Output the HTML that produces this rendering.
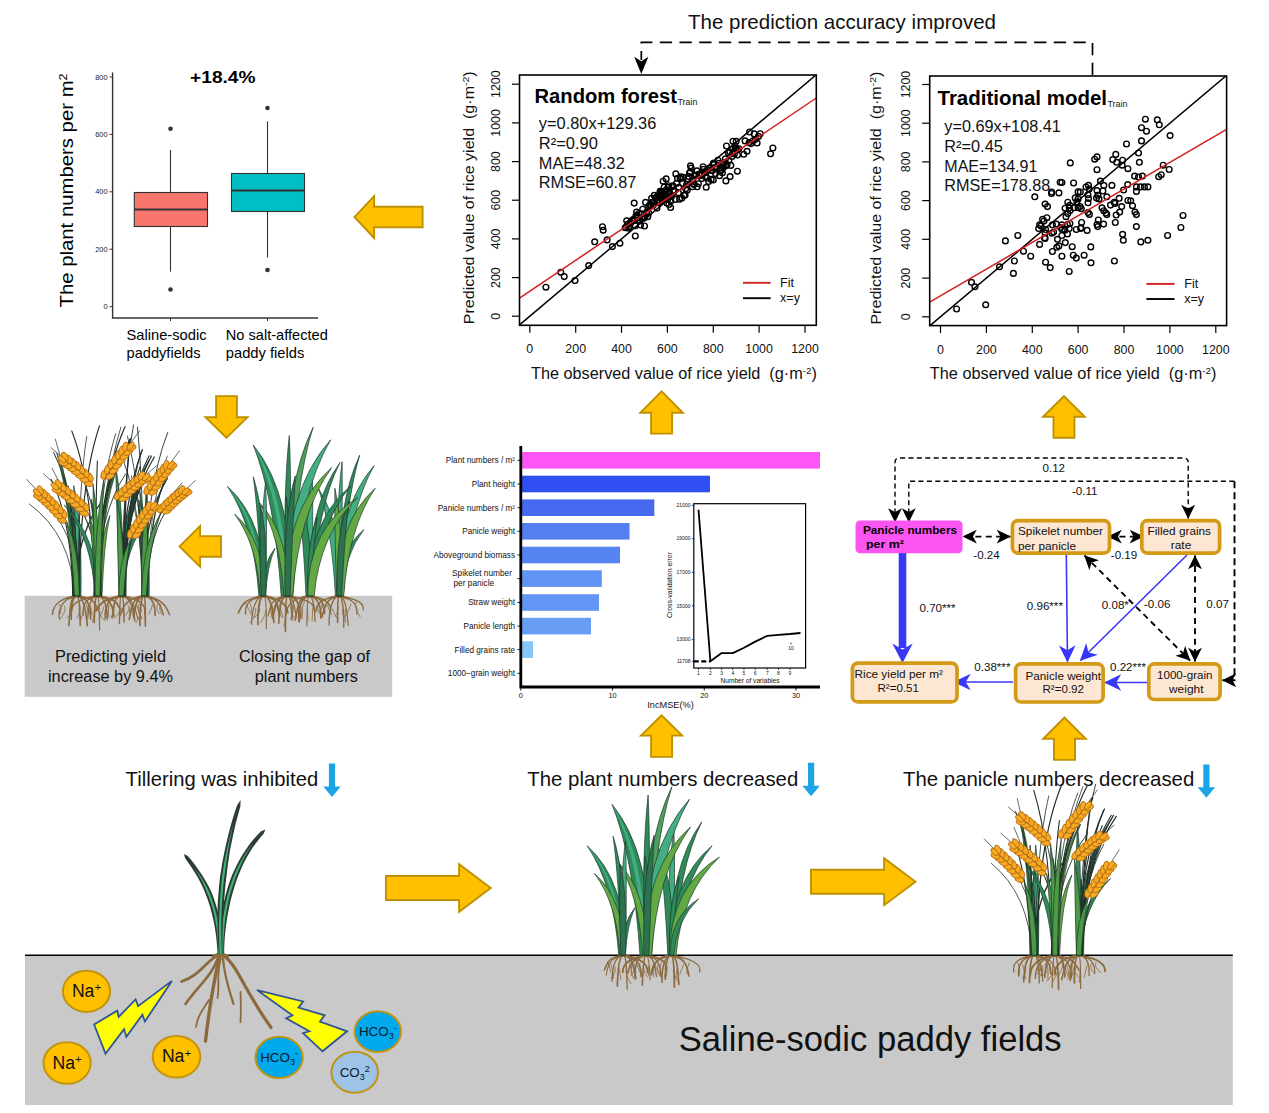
<!DOCTYPE html>
<html lang="en"><head><meta charset="utf-8"><title>Saline-sodic paddy fields - graphical abstract</title>
<style>
html,body{margin:0;padding:0;background:#fff;}
body{width:1269px;height:1113px;overflow:hidden;}
svg{display:block;font-family:"Liberation Sans",sans-serif;}
</style></head><body>
<svg width="1269" height="1113" viewBox="0 0 1269 1113">
<rect width="1269" height="1113" fill="#fff"/>
<g id="boxplot">
<path d="M112.6 72.5V318H318" fill="none" stroke="#333" stroke-width="1.4"/>
<line x1="109.5" y1="77" x2="112.6" y2="77" stroke="#333" stroke-width="1"/>
<text x="107.5" y="79.6" font-size="7.4" text-anchor="end" fill="#222">800</text>
<line x1="109.5" y1="134.4" x2="112.6" y2="134.4" stroke="#333" stroke-width="1"/>
<text x="107.5" y="137" font-size="7.4" text-anchor="end" fill="#222">600</text>
<line x1="109.5" y1="191.8" x2="112.6" y2="191.8" stroke="#333" stroke-width="1"/>
<text x="107.5" y="194.4" font-size="7.4" text-anchor="end" fill="#222">400</text>
<line x1="109.5" y1="249.2" x2="112.6" y2="249.2" stroke="#333" stroke-width="1"/>
<text x="107.5" y="251.8" font-size="7.4" text-anchor="end" fill="#222">200</text>
<line x1="109.5" y1="306.7" x2="112.6" y2="306.7" stroke="#333" stroke-width="1"/>
<text x="107.5" y="309.3" font-size="7.4" text-anchor="end" fill="#222">0</text>
<line x1="170.5" y1="318" x2="170.5" y2="321" stroke="#333" stroke-width="1"/>
<line x1="267.5" y1="318" x2="267.5" y2="321" stroke="#333" stroke-width="1"/>
<line x1="170.5" y1="150" x2="170.5" y2="271.7" stroke="#333" stroke-width="1.1"/>
<rect x="134.3" y="192.5" width="73.2" height="34" fill="#F8766D" stroke="#333" stroke-width="1.1"/>
<line x1="134.3" y1="209.5" x2="207.5" y2="209.5" stroke="#333" stroke-width="2.2"/>
<circle cx="170.5" cy="128.8" r="2.3" fill="#333"/><circle cx="170.5" cy="289.5" r="2.3" fill="#333"/>
<line x1="267.5" y1="121.3" x2="267.5" y2="257.5" stroke="#333" stroke-width="1.1"/>
<rect x="231.5" y="173.5" width="73" height="38" fill="#00BFC4" stroke="#333" stroke-width="1.1"/>
<line x1="231.5" y1="190.5" x2="304.5" y2="190.5" stroke="#333" stroke-width="2.2"/>
<circle cx="267.5" cy="108" r="2.3" fill="#333"/><circle cx="267.5" cy="270" r="2.3" fill="#333"/>
<text x="222.8" y="82.5" font-size="17" text-anchor="middle" font-weight="bold" textLength="65.5" lengthAdjust="spacingAndGlyphs">+18.4%</text>
<text x="72.6" y="307.5" font-size="18" transform="rotate(-90 72.6 307.5)" textLength="234" lengthAdjust="spacingAndGlyphs">The plant numbers per m<tspan font-size="11" dy="-6">2</tspan></text>
<text x="126.5" y="340.3" font-size="14.5" textLength="80" lengthAdjust="spacingAndGlyphs">Saline-sodic</text>
<text x="126.5" y="358.4" font-size="14.5" textLength="74" lengthAdjust="spacingAndGlyphs">paddyfields</text>
<text x="225.8" y="340.3" font-size="14.5" textLength="102" lengthAdjust="spacingAndGlyphs">No salt-affected</text>
<text x="225.8" y="358.4" font-size="14.5" textLength="78.5" lengthAdjust="spacingAndGlyphs">paddy fields</text>
</g>
<g id="rf">
<clipPath id="cp_rf"><rect x="519.5" y="75" width="296.8" height="250.3"/></clipPath>
<line x1="512" y1="316.2" x2="519.5" y2="316.2" stroke="#000" stroke-width="1.2"/>
<text x="500.3" y="316.2" font-size="12.4" text-anchor="middle" fill="#111" transform="rotate(-90 500.3 316.2)">0</text>
<line x1="529.8" y1="325.3" x2="529.8" y2="332.8" stroke="#000" stroke-width="1.2"/>
<text x="529.8" y="353.3" font-size="12.4" text-anchor="middle" fill="#111">0</text>
<line x1="512" y1="277.6" x2="519.5" y2="277.6" stroke="#000" stroke-width="1.2"/>
<text x="500.3" y="277.6" font-size="12.4" text-anchor="middle" fill="#111" transform="rotate(-90 500.3 277.6)">200</text>
<line x1="575.7" y1="325.3" x2="575.7" y2="332.8" stroke="#000" stroke-width="1.2"/>
<text x="575.7" y="353.3" font-size="12.4" text-anchor="middle" fill="#111">200</text>
<line x1="512" y1="238.9" x2="519.5" y2="238.9" stroke="#000" stroke-width="1.2"/>
<text x="500.3" y="238.9" font-size="12.4" text-anchor="middle" fill="#111" transform="rotate(-90 500.3 238.9)">400</text>
<line x1="621.5" y1="325.3" x2="621.5" y2="332.8" stroke="#000" stroke-width="1.2"/>
<text x="621.5" y="353.3" font-size="12.4" text-anchor="middle" fill="#111">400</text>
<line x1="512" y1="200.2" x2="519.5" y2="200.2" stroke="#000" stroke-width="1.2"/>
<text x="500.3" y="200.2" font-size="12.4" text-anchor="middle" fill="#111" transform="rotate(-90 500.3 200.2)">600</text>
<line x1="667.4" y1="325.3" x2="667.4" y2="332.8" stroke="#000" stroke-width="1.2"/>
<text x="667.4" y="353.3" font-size="12.4" text-anchor="middle" fill="#111">600</text>
<line x1="512" y1="161.6" x2="519.5" y2="161.6" stroke="#000" stroke-width="1.2"/>
<text x="500.3" y="161.6" font-size="12.4" text-anchor="middle" fill="#111" transform="rotate(-90 500.3 161.6)">800</text>
<line x1="713.3" y1="325.3" x2="713.3" y2="332.8" stroke="#000" stroke-width="1.2"/>
<text x="713.3" y="353.3" font-size="12.4" text-anchor="middle" fill="#111">800</text>
<line x1="512" y1="122.9" x2="519.5" y2="122.9" stroke="#000" stroke-width="1.2"/>
<text x="500.3" y="122.9" font-size="12.4" text-anchor="middle" fill="#111" transform="rotate(-90 500.3 122.9)">1000</text>
<line x1="759.1" y1="325.3" x2="759.1" y2="332.8" stroke="#000" stroke-width="1.2"/>
<text x="759.1" y="353.3" font-size="12.4" text-anchor="middle" fill="#111">1000</text>
<line x1="512" y1="84.2" x2="519.5" y2="84.2" stroke="#000" stroke-width="1.2"/>
<text x="500.3" y="84.2" font-size="12.4" text-anchor="middle" fill="#111" transform="rotate(-90 500.3 84.2)">1200</text>
<line x1="805" y1="325.3" x2="805" y2="332.8" stroke="#000" stroke-width="1.2"/>
<text x="805" y="353.3" font-size="12.4" text-anchor="middle" fill="#111">1200</text>
<g clip-path="url(#cp_rf)">
<g fill="none" stroke="#000" stroke-width="1.4"><circle cx="545.9" cy="287.2" r="2.85"/><circle cx="560.8" cy="272.2" r="2.85"/><circle cx="564.2" cy="276.6" r="2.85"/><circle cx="575" cy="280.5" r="2.85"/><circle cx="588.7" cy="265.6" r="2.85"/><circle cx="594.7" cy="241.8" r="2.85"/><circle cx="602.5" cy="226.7" r="2.85"/><circle cx="603.2" cy="230.2" r="2.85"/><circle cx="607.1" cy="239.9" r="2.85"/><circle cx="612.4" cy="246.6" r="2.85"/><circle cx="619.9" cy="243.2" r="2.85"/><circle cx="625.2" cy="227.7" r="2.85"/><circle cx="626" cy="227.4" r="2.85"/><circle cx="626.7" cy="220.8" r="2.85"/><circle cx="627.5" cy="224.3" r="2.85"/><circle cx="628.6" cy="228.2" r="2.85"/><circle cx="629.6" cy="226.4" r="2.85"/><circle cx="630.4" cy="222.4" r="2.85"/><circle cx="630.9" cy="222.7" r="2.85"/><circle cx="631.8" cy="220.6" r="2.85"/><circle cx="632.7" cy="220.7" r="2.85"/><circle cx="633" cy="219.6" r="2.85"/><circle cx="634.2" cy="220.4" r="2.85"/><circle cx="635.2" cy="225.7" r="2.85"/><circle cx="635.9" cy="216.1" r="2.85"/><circle cx="636.6" cy="212.1" r="2.85"/><circle cx="637.2" cy="215" r="2.85"/><circle cx="637.8" cy="217.9" r="2.85"/><circle cx="639" cy="213.5" r="2.85"/><circle cx="639.5" cy="220.9" r="2.85"/><circle cx="640.6" cy="225" r="2.85"/><circle cx="641.6" cy="213.7" r="2.85"/><circle cx="641.9" cy="218.8" r="2.85"/><circle cx="642.7" cy="209.2" r="2.85"/><circle cx="643.9" cy="218.1" r="2.85"/><circle cx="644.5" cy="226" r="2.85"/><circle cx="644.9" cy="217.1" r="2.85"/><circle cx="645.6" cy="202.4" r="2.85"/><circle cx="646.5" cy="212.4" r="2.85"/><circle cx="647.8" cy="216.7" r="2.85"/><circle cx="648.6" cy="212.9" r="2.85"/><circle cx="648.8" cy="205.7" r="2.85"/><circle cx="650.2" cy="204.8" r="2.85"/><circle cx="651.1" cy="205.9" r="2.85"/><circle cx="651.6" cy="198.4" r="2.85"/><circle cx="652.1" cy="202.2" r="2.85"/><circle cx="653.1" cy="205.4" r="2.85"/><circle cx="653.6" cy="201.7" r="2.85"/><circle cx="654.3" cy="195.4" r="2.85"/><circle cx="655.8" cy="198" r="2.85"/><circle cx="656.3" cy="197.3" r="2.85"/><circle cx="657" cy="208.1" r="2.85"/><circle cx="658.1" cy="202.2" r="2.85"/><circle cx="658.5" cy="195.5" r="2.85"/><circle cx="659.7" cy="202.6" r="2.85"/><circle cx="660.4" cy="191.4" r="2.85"/><circle cx="660.7" cy="194.9" r="2.85"/><circle cx="661.6" cy="191.8" r="2.85"/><circle cx="662.4" cy="199.9" r="2.85"/><circle cx="663.1" cy="181.2" r="2.85"/><circle cx="664.2" cy="187.2" r="2.85"/><circle cx="664.7" cy="198.1" r="2.85"/><circle cx="665.6" cy="195" r="2.85"/><circle cx="666.2" cy="178.9" r="2.85"/><circle cx="667.6" cy="196.9" r="2.85"/><circle cx="668" cy="187.2" r="2.85"/><circle cx="668.8" cy="185.7" r="2.85"/><circle cx="669.7" cy="192.6" r="2.85"/><circle cx="670.8" cy="200.9" r="2.85"/><circle cx="658.6" cy="199.7" r="2.85"/><circle cx="659.7" cy="197.5" r="2.85"/><circle cx="660.1" cy="191.2" r="2.85"/><circle cx="660.9" cy="193.3" r="2.85"/><circle cx="661.6" cy="198.6" r="2.85"/><circle cx="662" cy="191.9" r="2.85"/><circle cx="663.1" cy="193.5" r="2.85"/><circle cx="663.6" cy="195.7" r="2.85"/><circle cx="664.2" cy="196.4" r="2.85"/><circle cx="665.6" cy="197.7" r="2.85"/><circle cx="665.8" cy="190.3" r="2.85"/><circle cx="666.8" cy="203" r="2.85"/><circle cx="667.7" cy="199" r="2.85"/><circle cx="668.4" cy="193.6" r="2.85"/><circle cx="668.9" cy="204.5" r="2.85"/><circle cx="669.8" cy="195.9" r="2.85"/><circle cx="670.6" cy="207.5" r="2.85"/><circle cx="671.5" cy="196.5" r="2.85"/><circle cx="671.8" cy="186.7" r="2.85"/><circle cx="672.9" cy="185.9" r="2.85"/><circle cx="673.4" cy="190.3" r="2.85"/><circle cx="674.1" cy="191.1" r="2.85"/><circle cx="675.3" cy="199.4" r="2.85"/><circle cx="675.8" cy="173.9" r="2.85"/><circle cx="676.6" cy="183.4" r="2.85"/><circle cx="677.5" cy="178.3" r="2.85"/><circle cx="678.4" cy="192.9" r="2.85"/><circle cx="678.8" cy="187.2" r="2.85"/><circle cx="679.6" cy="199.2" r="2.85"/><circle cx="680.3" cy="178.6" r="2.85"/><circle cx="681" cy="176.8" r="2.85"/><circle cx="681.9" cy="198" r="2.85"/><circle cx="682.5" cy="183.3" r="2.85"/><circle cx="683.3" cy="177.4" r="2.85"/><circle cx="684" cy="195.4" r="2.85"/><circle cx="685.1" cy="195.1" r="2.85"/><circle cx="685.7" cy="188.8" r="2.85"/><circle cx="686.5" cy="184.7" r="2.85"/><circle cx="687.3" cy="190.1" r="2.85"/><circle cx="687.6" cy="178.8" r="2.85"/><circle cx="688.6" cy="176.4" r="2.85"/><circle cx="689.6" cy="172.8" r="2.85"/><circle cx="690.3" cy="172" r="2.85"/><circle cx="690.5" cy="165.8" r="2.85"/><circle cx="691.2" cy="168.1" r="2.85"/><circle cx="692.2" cy="186.8" r="2.85"/><circle cx="692.7" cy="180.4" r="2.85"/><circle cx="693.5" cy="184.3" r="2.85"/><circle cx="694.2" cy="184.2" r="2.85"/><circle cx="695.4" cy="176" r="2.85"/><circle cx="696.2" cy="175" r="2.85"/><circle cx="697" cy="170.9" r="2.85"/><circle cx="697.2" cy="186.8" r="2.85"/><circle cx="698.4" cy="183.7" r="2.85"/><circle cx="699.1" cy="174" r="2.85"/><circle cx="699.5" cy="175.2" r="2.85"/><circle cx="700.8" cy="175.5" r="2.85"/><circle cx="701.6" cy="173.2" r="2.85"/><circle cx="701.8" cy="178.6" r="2.85"/><circle cx="703.1" cy="166.7" r="2.85"/><circle cx="703.4" cy="169.3" r="2.85"/><circle cx="704.2" cy="172.3" r="2.85"/><circle cx="705.3" cy="176.4" r="2.85"/><circle cx="706" cy="172.3" r="2.85"/><circle cx="706.2" cy="187.3" r="2.85"/><circle cx="707.1" cy="178" r="2.85"/><circle cx="708" cy="169.8" r="2.85"/><circle cx="708.6" cy="181.5" r="2.85"/><circle cx="709.2" cy="168" r="2.85"/><circle cx="710.1" cy="168.1" r="2.85"/><circle cx="711.1" cy="179.4" r="2.85"/><circle cx="711.3" cy="170.6" r="2.85"/><circle cx="712.5" cy="170.6" r="2.85"/><circle cx="713.1" cy="164.4" r="2.85"/><circle cx="713.6" cy="163" r="2.85"/><circle cx="714.5" cy="167.6" r="2.85"/><circle cx="715.5" cy="173.5" r="2.85"/><circle cx="716.2" cy="167.8" r="2.85"/><circle cx="716.6" cy="167" r="2.85"/><circle cx="718" cy="160.2" r="2.85"/><circle cx="718.6" cy="163.4" r="2.85"/><circle cx="719.5" cy="170.9" r="2.85"/><circle cx="719.6" cy="175.7" r="2.85"/><circle cx="720.5" cy="167.8" r="2.85"/><circle cx="721.1" cy="170.4" r="2.85"/><circle cx="722.4" cy="172.7" r="2.85"/><circle cx="722.7" cy="164.8" r="2.85"/><circle cx="723.4" cy="167.5" r="2.85"/><circle cx="724.3" cy="162.5" r="2.85"/><circle cx="725.4" cy="158.8" r="2.85"/><circle cx="726.1" cy="165.7" r="2.85"/><circle cx="726.5" cy="146" r="2.85"/><circle cx="727.1" cy="164.6" r="2.85"/><circle cx="728.4" cy="153" r="2.85"/><circle cx="728.9" cy="160.2" r="2.85"/><circle cx="729.8" cy="151.8" r="2.85"/><circle cx="730.1" cy="176.6" r="2.85"/><circle cx="730.8" cy="165.4" r="2.85"/><circle cx="732" cy="156.6" r="2.85"/><circle cx="732.6" cy="153.4" r="2.85"/><circle cx="733" cy="141.2" r="2.85"/><circle cx="734.4" cy="154" r="2.85"/><circle cx="735" cy="146.1" r="2.85"/><circle cx="735.8" cy="149.3" r="2.85"/><circle cx="736" cy="147.8" r="2.85"/><circle cx="737.4" cy="150" r="2.85"/><circle cx="737.5" cy="155" r="2.85"/><circle cx="738.9" cy="148.7" r="2.85"/><circle cx="743.8" cy="154.3" r="2.85"/><circle cx="745.1" cy="140.9" r="2.85"/><circle cx="747" cy="151.3" r="2.85"/><circle cx="749.1" cy="142.6" r="2.85"/><circle cx="749.6" cy="132" r="2.85"/><circle cx="750.9" cy="143.6" r="2.85"/><circle cx="753.1" cy="140.7" r="2.85"/><circle cx="754.2" cy="133.9" r="2.85"/><circle cx="755.5" cy="139.3" r="2.85"/><circle cx="757.1" cy="143" r="2.85"/><circle cx="758.5" cy="136.4" r="2.85"/><circle cx="760.2" cy="133.7" r="2.85"/><circle cx="770.6" cy="153.8" r="2.85"/><circle cx="772.9" cy="148" r="2.85"/><circle cx="736.2" cy="141.3" r="2.85"/><circle cx="737.4" cy="171.2" r="2.85"/><circle cx="725.9" cy="180.9" r="2.85"/><circle cx="713.3" cy="179.9" r="2.85"/><circle cx="634.2" cy="203.1" r="2.85"/><circle cx="635.3" cy="236" r="2.85"/></g>
<line x1="519.5" y1="324.9" x2="816.3" y2="74.7" stroke="#000" stroke-width="1.5"/>
<line x1="519.5" y1="298.2" x2="816.3" y2="98" stroke="#D21F1F" stroke-width="1.5"/>
</g>
<rect x="519.5" y="75" width="296.8" height="250.3" fill="none" stroke="#000" stroke-width="1.6"/>
<text x="534.5" y="103.3" font-size="20.3" font-weight="bold" textLength="142.5" lengthAdjust="spacingAndGlyphs">Random forest</text>
<text x="677.5" y="105.1" font-size="9" fill="#222" textLength="20" lengthAdjust="spacingAndGlyphs">Train</text>
<text x="538.8" y="129.1" font-size="16" fill="#111" textLength="117.5" lengthAdjust="spacingAndGlyphs">y=0.80x+129.36</text>
<text x="538.8" y="148.8" font-size="16" fill="#111" textLength="59" lengthAdjust="spacingAndGlyphs">R²=0.90</text>
<text x="538.8" y="168.5" font-size="16" fill="#111" textLength="86" lengthAdjust="spacingAndGlyphs">MAE=48.32</text>
<text x="538.8" y="188.2" font-size="16" fill="#111" textLength="97.5" lengthAdjust="spacingAndGlyphs">RMSE=60.87</text>
<text x="474.5" y="324.3" font-size="14.6" fill="#111" transform="rotate(-90 474.5 324.3)" textLength="253" lengthAdjust="spacingAndGlyphs">Predicted value of rice yield&#160;&#160;(g·m<tspan font-size="9.5" dy="-5">-2</tspan><tspan dy="5">)</tspan></text>
<text x="531" y="378.8" font-size="15.6" fill="#111" textLength="286" lengthAdjust="spacingAndGlyphs">The observed value of rice yield&#160;&#160;(g·m<tspan font-size="9.5" dy="-5">-2</tspan><tspan dy="5">)</tspan></text>
<line x1="743" y1="282.8" x2="770.6" y2="282.8" stroke="#D21F1F" stroke-width="1.9"/>
<line x1="743" y1="298.2" x2="770.6" y2="298.2" stroke="#000" stroke-width="1.9"/>
<text x="780" y="287" font-size="12.6" fill="#111">Fit</text>
<text x="780" y="301.8" font-size="12.6" fill="#111">x=y</text>
</g>
<g id="tm">
<clipPath id="cp_tm"><rect x="929.7" y="76" width="296.9" height="249.6"/></clipPath>
<line x1="922.2" y1="316.8" x2="929.7" y2="316.8" stroke="#000" stroke-width="1.2"/>
<text x="910.3" y="316.8" font-size="12.4" text-anchor="middle" fill="#111" transform="rotate(-90 910.3 316.8)">0</text>
<line x1="940.5" y1="325.6" x2="940.5" y2="333.1" stroke="#000" stroke-width="1.2"/>
<text x="940.5" y="353.6" font-size="12.4" text-anchor="middle" fill="#111">0</text>
<line x1="922.2" y1="278.1" x2="929.7" y2="278.1" stroke="#000" stroke-width="1.2"/>
<text x="910.3" y="278.1" font-size="12.4" text-anchor="middle" fill="#111" transform="rotate(-90 910.3 278.1)">200</text>
<line x1="986.4" y1="325.6" x2="986.4" y2="333.1" stroke="#000" stroke-width="1.2"/>
<text x="986.4" y="353.6" font-size="12.4" text-anchor="middle" fill="#111">200</text>
<line x1="922.2" y1="239.3" x2="929.7" y2="239.3" stroke="#000" stroke-width="1.2"/>
<text x="910.3" y="239.3" font-size="12.4" text-anchor="middle" fill="#111" transform="rotate(-90 910.3 239.3)">400</text>
<line x1="1032.3" y1="325.6" x2="1032.3" y2="333.1" stroke="#000" stroke-width="1.2"/>
<text x="1032.3" y="353.6" font-size="12.4" text-anchor="middle" fill="#111">400</text>
<line x1="922.2" y1="200.6" x2="929.7" y2="200.6" stroke="#000" stroke-width="1.2"/>
<text x="910.3" y="200.6" font-size="12.4" text-anchor="middle" fill="#111" transform="rotate(-90 910.3 200.6)">600</text>
<line x1="1078.1" y1="325.6" x2="1078.1" y2="333.1" stroke="#000" stroke-width="1.2"/>
<text x="1078.1" y="353.6" font-size="12.4" text-anchor="middle" fill="#111">600</text>
<line x1="922.2" y1="161.9" x2="929.7" y2="161.9" stroke="#000" stroke-width="1.2"/>
<text x="910.3" y="161.9" font-size="12.4" text-anchor="middle" fill="#111" transform="rotate(-90 910.3 161.9)">800</text>
<line x1="1124" y1="325.6" x2="1124" y2="333.1" stroke="#000" stroke-width="1.2"/>
<text x="1124" y="353.6" font-size="12.4" text-anchor="middle" fill="#111">800</text>
<line x1="922.2" y1="123.2" x2="929.7" y2="123.2" stroke="#000" stroke-width="1.2"/>
<text x="910.3" y="123.2" font-size="12.4" text-anchor="middle" fill="#111" transform="rotate(-90 910.3 123.2)">1000</text>
<line x1="1169.9" y1="325.6" x2="1169.9" y2="333.1" stroke="#000" stroke-width="1.2"/>
<text x="1169.9" y="353.6" font-size="12.4" text-anchor="middle" fill="#111">1000</text>
<line x1="922.2" y1="84.5" x2="929.7" y2="84.5" stroke="#000" stroke-width="1.2"/>
<text x="910.3" y="84.5" font-size="12.4" text-anchor="middle" fill="#111" transform="rotate(-90 910.3 84.5)">1200</text>
<line x1="1215.8" y1="325.6" x2="1215.8" y2="333.1" stroke="#000" stroke-width="1.2"/>
<text x="1215.8" y="353.6" font-size="12.4" text-anchor="middle" fill="#111">1200</text>
<g clip-path="url(#cp_tm)">
<g fill="none" stroke="#000" stroke-width="1.4"><circle cx="956.6" cy="309" r="2.85"/><circle cx="971.5" cy="282.3" r="2.85"/><circle cx="974.9" cy="286.8" r="2.85"/><circle cx="985.7" cy="304.8" r="2.85"/><circle cx="999.5" cy="266.8" r="2.85"/><circle cx="1005.4" cy="240.9" r="2.85"/><circle cx="1145.4" cy="119.2" r="2.85"/><circle cx="1157.3" cy="119.8" r="2.85"/><circle cx="1159.3" cy="124.8" r="2.85"/><circle cx="1141.5" cy="127.7" r="2.85"/><circle cx="1146.5" cy="131.2" r="2.85"/><circle cx="1170.1" cy="135.6" r="2.85"/><circle cx="1141.5" cy="140.9" r="2.85"/><circle cx="1126.5" cy="144" r="2.85"/><circle cx="1138.5" cy="153" r="2.85"/><circle cx="1115.8" cy="154.4" r="2.85"/><circle cx="1097" cy="156.9" r="2.85"/><circle cx="1094.7" cy="159.2" r="2.85"/><circle cx="1112.8" cy="159.6" r="2.85"/><circle cx="1116.7" cy="162.3" r="2.85"/><circle cx="1122.6" cy="160.2" r="2.85"/><circle cx="1122.2" cy="165.2" r="2.85"/><circle cx="1139.4" cy="162.3" r="2.85"/><circle cx="1070.3" cy="162.9" r="2.85"/><circle cx="1127.9" cy="168.7" r="2.85"/><circle cx="1097" cy="169.7" r="2.85"/><circle cx="1163.2" cy="165.2" r="2.85"/><circle cx="1169.2" cy="169.5" r="2.85"/><circle cx="1161.2" cy="174.7" r="2.85"/><circle cx="1158.7" cy="176.7" r="2.85"/><circle cx="1134.6" cy="176.1" r="2.85"/><circle cx="1138.5" cy="177" r="2.85"/><circle cx="1142.4" cy="176.1" r="2.85"/><circle cx="1100.4" cy="181.1" r="2.85"/><circle cx="1061.9" cy="182.5" r="2.85"/><circle cx="1073.6" cy="183" r="2.85"/><circle cx="1088.5" cy="185.4" r="2.85"/><circle cx="1089.2" cy="189" r="2.85"/><circle cx="1103.8" cy="185.4" r="2.85"/><circle cx="1111.9" cy="185.4" r="2.85"/><circle cx="1127.7" cy="184.6" r="2.85"/><circle cx="1136.4" cy="186.9" r="2.85"/><circle cx="1140.5" cy="186.9" r="2.85"/><circle cx="1144.4" cy="186.9" r="2.85"/><circle cx="1147.9" cy="186.9" r="2.85"/><circle cx="1123.6" cy="190" r="2.85"/><circle cx="1136.4" cy="191.4" r="2.85"/><circle cx="1078.1" cy="191.9" r="2.85"/><circle cx="1097" cy="190.6" r="2.85"/><circle cx="1102.9" cy="191" r="2.85"/><circle cx="1051.5" cy="193.5" r="2.85"/><circle cx="1058.9" cy="192.9" r="2.85"/><circle cx="1034.8" cy="196.8" r="2.85"/><circle cx="1075.2" cy="197.9" r="2.85"/><circle cx="1078.1" cy="198.9" r="2.85"/><circle cx="1088" cy="194.8" r="2.85"/><circle cx="1088.5" cy="198.5" r="2.85"/><circle cx="1096.5" cy="197.9" r="2.85"/><circle cx="1099" cy="198.9" r="2.85"/><circle cx="1106.8" cy="196.8" r="2.85"/><circle cx="1119.2" cy="198.3" r="2.85"/><circle cx="1127.9" cy="200.5" r="2.85"/><circle cx="1130.7" cy="200.8" r="2.85"/><circle cx="1045.1" cy="204.1" r="2.85"/><circle cx="1067.8" cy="202.2" r="2.85"/><circle cx="1088" cy="202.8" r="2.85"/><circle cx="1114.2" cy="202.2" r="2.85"/><circle cx="1110.5" cy="205.1" r="2.85"/><circle cx="1132.5" cy="205.7" r="2.85"/><circle cx="1065.1" cy="208.2" r="2.85"/><circle cx="1069.2" cy="207.8" r="2.85"/><circle cx="1074.2" cy="207.8" r="2.85"/><circle cx="1078.1" cy="207.8" r="2.85"/><circle cx="1080.2" cy="206.6" r="2.85"/><circle cx="1102" cy="207.8" r="2.85"/><circle cx="1103.8" cy="210.7" r="2.85"/><circle cx="1121.7" cy="206.6" r="2.85"/><circle cx="1119.7" cy="212.1" r="2.85"/><circle cx="1135" cy="212.1" r="2.85"/><circle cx="1136.4" cy="214.6" r="2.85"/><circle cx="1088" cy="212.6" r="2.85"/><circle cx="1105.9" cy="213" r="2.85"/><circle cx="1106.8" cy="214.6" r="2.85"/><circle cx="1116.2" cy="215" r="2.85"/><circle cx="1067.8" cy="213.6" r="2.85"/><circle cx="1066" cy="216.7" r="2.85"/><circle cx="1046.9" cy="217.7" r="2.85"/><circle cx="1044" cy="221" r="2.85"/><circle cx="1098.3" cy="220" r="2.85"/><circle cx="1081.6" cy="222.5" r="2.85"/><circle cx="1115.3" cy="222.5" r="2.85"/><circle cx="1039.6" cy="224.8" r="2.85"/><circle cx="1052.4" cy="224.8" r="2.85"/><circle cx="1056.3" cy="224.1" r="2.85"/><circle cx="1061.9" cy="224.8" r="2.85"/><circle cx="1067.4" cy="224.5" r="2.85"/><circle cx="1069.9" cy="223.5" r="2.85"/><circle cx="1097" cy="224.5" r="2.85"/><circle cx="1103.6" cy="224.1" r="2.85"/><circle cx="1136.4" cy="226.6" r="2.85"/><circle cx="1038.7" cy="228.5" r="2.85"/><circle cx="1045.6" cy="229.5" r="2.85"/><circle cx="1062.3" cy="229.5" r="2.85"/><circle cx="1069.2" cy="228.5" r="2.85"/><circle cx="1076.3" cy="229.5" r="2.85"/><circle cx="1080.7" cy="228.5" r="2.85"/><circle cx="1087.1" cy="230.4" r="2.85"/><circle cx="1183" cy="215.5" r="2.85"/><circle cx="1180.9" cy="227.5" r="2.85"/><circle cx="1045.1" cy="232.8" r="2.85"/><circle cx="1053.6" cy="232" r="2.85"/><circle cx="1061.9" cy="235.5" r="2.85"/><circle cx="1067.4" cy="233.9" r="2.85"/><circle cx="1122.6" cy="234.3" r="2.85"/><circle cx="1017.8" cy="235.5" r="2.85"/><circle cx="1045.1" cy="238.4" r="2.85"/><circle cx="1057.5" cy="239.3" r="2.85"/><circle cx="1123.3" cy="240.3" r="2.85"/><circle cx="1147.9" cy="240.3" r="2.85"/><circle cx="1140.8" cy="241.9" r="2.85"/><circle cx="1167.6" cy="235.5" r="2.85"/><circle cx="1039.6" cy="244.4" r="2.85"/><circle cx="1065.3" cy="242.6" r="2.85"/><circle cx="1058.9" cy="245.9" r="2.85"/><circle cx="1056.8" cy="247.3" r="2.85"/><circle cx="1072.2" cy="246.7" r="2.85"/><circle cx="1090.8" cy="246.9" r="2.85"/><circle cx="1023.5" cy="251.2" r="2.85"/><circle cx="1052.4" cy="251.5" r="2.85"/><circle cx="1030.7" cy="256.2" r="2.85"/><circle cx="1061.9" cy="256.2" r="2.85"/><circle cx="1073.3" cy="255.2" r="2.85"/><circle cx="1076.3" cy="258.1" r="2.85"/><circle cx="1084.1" cy="255.2" r="2.85"/><circle cx="1014.4" cy="261" r="2.85"/><circle cx="1045.6" cy="262.2" r="2.85"/><circle cx="1091" cy="262.8" r="2.85"/><circle cx="1114.4" cy="261" r="2.85"/><circle cx="1050.2" cy="267.6" r="2.85"/><circle cx="1069.2" cy="271.5" r="2.85"/><circle cx="1013.4" cy="273.4" r="2.85"/><circle cx="1060.2" cy="182.2" r="2.85"/><circle cx="1086" cy="187" r="2.85"/><circle cx="1080.3" cy="192.1" r="2.85"/><circle cx="1051.7" cy="192" r="2.85"/><circle cx="1076.9" cy="201.8" r="2.85"/><circle cx="1097.9" cy="195.3" r="2.85"/><circle cx="1047.5" cy="206.6" r="2.85"/><circle cx="1115" cy="203.4" r="2.85"/><circle cx="1069.7" cy="205.3" r="2.85"/><circle cx="1081.3" cy="208.7" r="2.85"/><circle cx="1089.4" cy="214.4" r="2.85"/><circle cx="1070.1" cy="210.6" r="2.85"/><circle cx="1042.6" cy="219.3" r="2.85"/><circle cx="1041" cy="225.9" r="2.85"/><circle cx="1060.6" cy="227.5" r="2.85"/><circle cx="1097.7" cy="226.6" r="2.85"/><circle cx="1064.9" cy="230.2" r="2.85"/><circle cx="1081" cy="227.8" r="2.85"/><circle cx="1051.9" cy="233.2" r="2.85"/><circle cx="1044.6" cy="237.9" r="2.85"/></g>
<line x1="929.7" y1="325.9" x2="1226.6" y2="75.4" stroke="#000" stroke-width="1.5"/>
<line x1="929.7" y1="302.1" x2="1226.6" y2="129.3" stroke="#D21F1F" stroke-width="1.5"/>
</g>
<rect x="929.7" y="76" width="296.9" height="249.6" fill="none" stroke="#000" stroke-width="1.6"/>
<text x="937.5" y="105" font-size="20.3" font-weight="bold" textLength="169.5" lengthAdjust="spacingAndGlyphs">Traditional model</text>
<text x="1107.5" y="106.8" font-size="9" fill="#222" textLength="20" lengthAdjust="spacingAndGlyphs">Train</text>
<text x="944.3" y="132.1" font-size="16" fill="#111" textLength="116.5" lengthAdjust="spacingAndGlyphs">y=0.69x+108.41</text>
<text x="944.3" y="151.8" font-size="16" fill="#111" textLength="58.5" lengthAdjust="spacingAndGlyphs">R²=0.45</text>
<text x="944.3" y="171.5" font-size="16" fill="#111" textLength="93" lengthAdjust="spacingAndGlyphs">MAE=134.91</text>
<text x="944.3" y="191.2" font-size="16" fill="#111" textLength="106" lengthAdjust="spacingAndGlyphs">RMSE=178.88</text>
<text x="881" y="324.6" font-size="14.6" fill="#111" transform="rotate(-90 881 324.6)" textLength="253" lengthAdjust="spacingAndGlyphs">Predicted value of rice yield&#160;&#160;(g·m<tspan font-size="9.5" dy="-5">-2</tspan><tspan dy="5">)</tspan></text>
<text x="929.8" y="378.8" font-size="15.6" fill="#111" textLength="286.7" lengthAdjust="spacingAndGlyphs">The observed value of rice yield&#160;&#160;(g·m<tspan font-size="9.5" dy="-5">-2</tspan><tspan dy="5">)</tspan></text>
<line x1="1146.4" y1="283.9" x2="1174.5" y2="283.9" stroke="#D21F1F" stroke-width="1.9"/>
<line x1="1146.4" y1="299" x2="1174.5" y2="299" stroke="#000" stroke-width="1.9"/>
<text x="1184.2" y="288.1" font-size="12.6" fill="#111">Fit</text>
<text x="1184.2" y="302.6" font-size="12.6" fill="#111">x=y</text>
</g>
<text x="842" y="29.2" font-size="20.3" text-anchor="middle" fill="#111" textLength="308" lengthAdjust="spacingAndGlyphs">The prediction accuracy improved</text>
<path d="M1092.5 75V42.3H641.3V60" fill="none" stroke="#000" stroke-width="1.7" stroke-dasharray="12.3 7.4"/>
<path d="M641.3 74 L634.2 56.8 L641.3 61.2 L648.4 56.8 Z" fill="#000"/>
<polygon points="354.5,217.1 374.1,196.2 374.1,206.8 422.6,206.8 422.6,227.3 374.1,227.3 374.1,238" fill="#FFC000" stroke="#BF9000" stroke-width="1.9" stroke-linejoin="miter"/>
<g id="barchart">
<rect x="521" y="452" width="299" height="16.6" fill="#FF55F6"/>
<line x1="517.5" y1="460.3" x2="520" y2="460.3" stroke="#000" stroke-width="0.9"/>
<text x="515" y="463.2" font-size="8.2" text-anchor="end" fill="#111">Plant numbers / m²</text>
<rect x="521" y="475.7" width="189" height="16.6" fill="#2F4FF2"/>
<line x1="517.5" y1="484" x2="520" y2="484" stroke="#000" stroke-width="0.9"/>
<text x="515" y="486.9" font-size="8.2" text-anchor="end" fill="#111">Plant height</text>
<rect x="521" y="499.4" width="133.3" height="16.6" fill="#4669F0"/>
<line x1="517.5" y1="507.7" x2="520" y2="507.7" stroke="#000" stroke-width="0.9"/>
<text x="515" y="510.6" font-size="8.2" text-anchor="end" fill="#111">Panicle numbers / m²</text>
<rect x="521" y="523" width="108.5" height="16.6" fill="#547EF1"/>
<line x1="517.5" y1="531.3" x2="520" y2="531.3" stroke="#000" stroke-width="0.9"/>
<text x="515" y="534.2" font-size="8.2" text-anchor="end" fill="#111">Panicle weight</text>
<rect x="521" y="546.7" width="99" height="16.6" fill="#5685F2"/>
<line x1="517.5" y1="555" x2="520" y2="555" stroke="#000" stroke-width="0.9"/>
<text x="515" y="557.9" font-size="8.2" text-anchor="end" fill="#111">Aboveground biomass</text>
<rect x="521" y="570.3" width="80.8" height="16.6" fill="#6093F4"/>
<line x1="517.5" y1="578.6" x2="520" y2="578.6" stroke="#000" stroke-width="0.9"/>
<rect x="521" y="594.2" width="78" height="16.6" fill="#6296F4"/>
<line x1="517.5" y1="602.5" x2="520" y2="602.5" stroke="#000" stroke-width="0.9"/>
<text x="515" y="605.4" font-size="8.2" text-anchor="end" fill="#111">Straw weight</text>
<rect x="521" y="617.8" width="70" height="16.6" fill="#679DF5"/>
<line x1="517.5" y1="626.1" x2="520" y2="626.1" stroke="#000" stroke-width="0.9"/>
<text x="515" y="629" font-size="8.2" text-anchor="end" fill="#111">Panicle length</text>
<rect x="521" y="641.3" width="12" height="16.6" fill="#86C6F8"/>
<line x1="517.5" y1="649.6" x2="520" y2="649.6" stroke="#000" stroke-width="0.9"/>
<text x="515" y="652.5" font-size="8.2" text-anchor="end" fill="#111">Filled grains rate</text>
<line x1="517.5" y1="673.3" x2="520" y2="673.3" stroke="#000" stroke-width="0.9"/>
<text x="515" y="676.2" font-size="8.2" text-anchor="end" fill="#111">1000−grain weight</text>
<text x="512" y="576.2" font-size="8.3" text-anchor="end" fill="#111">Spikelet number</text>
<text x="453.5" y="586.3" font-size="8.3" fill="#111">per panicle</text>
<path d="M520.8 446V687H820" fill="none" stroke="#000" stroke-width="2.8"/>
<line x1="520.8" y1="687" x2="520.8" y2="690.5" stroke="#000" stroke-width="0.9"/>
<text x="520.8" y="698" font-size="7.4" text-anchor="middle" fill="#111">0</text>
<line x1="612.5" y1="687" x2="612.5" y2="690.5" stroke="#000" stroke-width="0.9"/>
<text x="612.5" y="698" font-size="7.4" text-anchor="middle" fill="#111">10</text>
<line x1="704.3" y1="687" x2="704.3" y2="690.5" stroke="#000" stroke-width="0.9"/>
<text x="704.3" y="698" font-size="7.4" text-anchor="middle" fill="#111">20</text>
<line x1="796" y1="687" x2="796" y2="690.5" stroke="#000" stroke-width="0.9"/>
<text x="796" y="698" font-size="7.4" text-anchor="middle" fill="#111">30</text>
<text x="670.5" y="707.6" font-size="9.2" text-anchor="middle" fill="#111">IncMSE(%)</text>
<rect x="693.8" y="503.7" width="111.8" height="164.3" fill="#fff" stroke="#000" stroke-width="1.2"/>
<polyline points="698.5,509.8 710.4,661.3 721.6,653.1 732.8,653.1 744,647.7 755.2,641.6 767.3,635.8 778.5,634.8 790,634 800.5,633" fill="none" stroke="#000" stroke-width="1.8" stroke-linejoin="round"/>
<line x1="693.8" y1="661.3" x2="710.4" y2="661.3" stroke="#000" stroke-width="2.3" stroke-dasharray="5 2.5"/>
<line x1="691.8" y1="505.4" x2="693.8" y2="505.4" stroke="#000" stroke-width="0.7"/>
<text x="690.5" y="507.2" font-size="5" text-anchor="end" fill="#111">21000</text>
<line x1="691.8" y1="538.6" x2="693.8" y2="538.6" stroke="#000" stroke-width="0.7"/>
<text x="690.5" y="540.4" font-size="5" text-anchor="end" fill="#111">19000</text>
<line x1="691.8" y1="572.5" x2="693.8" y2="572.5" stroke="#000" stroke-width="0.7"/>
<text x="690.5" y="574.3" font-size="5" text-anchor="end" fill="#111">17000</text>
<line x1="691.8" y1="605.7" x2="693.8" y2="605.7" stroke="#000" stroke-width="0.7"/>
<text x="690.5" y="607.5" font-size="5" text-anchor="end" fill="#111">15000</text>
<line x1="691.8" y1="639.6" x2="693.8" y2="639.6" stroke="#000" stroke-width="0.7"/>
<text x="690.5" y="641.4" font-size="5" text-anchor="end" fill="#111">13000</text>
<line x1="691.8" y1="661.2" x2="693.8" y2="661.2" stroke="#000" stroke-width="0.7"/>
<text x="690.5" y="663" font-size="5" text-anchor="end" fill="#111">11708</text>
<line x1="698.5" y1="668" x2="698.5" y2="670" stroke="#000" stroke-width="0.7"/>
<text x="698.5" y="675.2" font-size="5" text-anchor="middle" fill="#111">1</text>
<line x1="710.4" y1="668" x2="710.4" y2="670" stroke="#000" stroke-width="0.7"/>
<text x="710.4" y="675.2" font-size="5" text-anchor="middle" fill="#111">2</text>
<line x1="721.6" y1="668" x2="721.6" y2="670" stroke="#000" stroke-width="0.7"/>
<text x="721.6" y="675.2" font-size="5" text-anchor="middle" fill="#111">3</text>
<line x1="732.8" y1="668" x2="732.8" y2="670" stroke="#000" stroke-width="0.7"/>
<text x="732.8" y="675.2" font-size="5" text-anchor="middle" fill="#111">4</text>
<line x1="744" y1="668" x2="744" y2="670" stroke="#000" stroke-width="0.7"/>
<text x="744" y="675.2" font-size="5" text-anchor="middle" fill="#111">5</text>
<line x1="755.2" y1="668" x2="755.2" y2="670" stroke="#000" stroke-width="0.7"/>
<text x="755.2" y="675.2" font-size="5" text-anchor="middle" fill="#111">6</text>
<line x1="767.3" y1="668" x2="767.3" y2="670" stroke="#000" stroke-width="0.7"/>
<text x="767.3" y="675.2" font-size="5" text-anchor="middle" fill="#111">7</text>
<line x1="778.5" y1="668" x2="778.5" y2="670" stroke="#000" stroke-width="0.7"/>
<text x="778.5" y="675.2" font-size="5" text-anchor="middle" fill="#111">8</text>
<line x1="790" y1="668" x2="790" y2="670" stroke="#000" stroke-width="0.7"/>
<text x="790" y="675.2" font-size="5" text-anchor="middle" fill="#111">9</text>
<text x="791" y="649.6" font-size="5" text-anchor="middle" fill="#111">10</text>
<line x1="791" y1="642.5" x2="791" y2="644.5" stroke="#000" stroke-width="0.7"/>
<text x="750" y="682.6" font-size="6.4" text-anchor="middle" fill="#111" textLength="59" lengthAdjust="spacingAndGlyphs">Number of variables</text>
<text x="672" y="585" font-size="6.4" text-anchor="middle" fill="#111" transform="rotate(-90 672 585)" textLength="66" lengthAdjust="spacingAndGlyphs">Cross-validation error</text>
</g>
<g id="sem">
<defs><marker id="mk" viewBox="0 0 12 12" refX="11.6" refY="6" markerWidth="14.6" markerHeight="14.6" markerUnits="userSpaceOnUse" orient="auto-start-reverse"><path d="M12 6 L0.3 0.3 L3.4 6 L0.3 11.7 Z" fill="#000"/></marker><marker id="mb" viewBox="0 0 20 20" refX="19" refY="10" markerWidth="18" markerHeight="18" markerUnits="userSpaceOnUse" orient="auto"><path d="M20 10 L1 0.8 L6.5 10 L1 19.2 Z" fill="#3838F5"/></marker></defs>
<path d="M895 522V462.5Q895 458 899.5 458H1183.7Q1188.2 458 1188.2 462.5V518.5" stroke="#000" fill="none" stroke-dasharray="5 3.4" stroke-width="1.4" marker-start="url(#mk)" marker-end="url(#mk)"/>
<path d="M908.8 522V481.3H1234.5" stroke="#000" fill="none" stroke-dasharray="5 3.4" stroke-width="1.4" marker-start="url(#mk)"/>
<path d="M1234.5 481.3V680.3H1222.5" stroke="#000" fill="none" stroke-dasharray="7 4" stroke-width="1.9" marker-end="url(#mk)"/>
<path d="M963 536.6H1010.5" stroke="#000" fill="none" stroke-dasharray="6 4.4" stroke-dashoffset="-2" stroke-width="1.9" marker-start="url(#mk)" marker-end="url(#mk)"/>
<path d="M1108 536.6H1143.5" stroke="#000" fill="none" stroke-dasharray="6 4.4" stroke-dashoffset="-1" stroke-width="1.9" marker-start="url(#mk)" marker-end="url(#mk)"/>
<path d="M1195 555.5V661.5" stroke="#000" fill="none" stroke-dasharray="6 4.4" stroke-width="1.9" marker-start="url(#mk)" marker-end="url(#mk)"/>
<path d="M1084.5 555.5L1190 660.5" stroke="#000" fill="none" stroke-dasharray="6 4.4" stroke-width="1.9" marker-start="url(#mk)" marker-end="url(#mk)"/>
<line x1="902.5" y1="553" x2="902.5" y2="648" stroke="#3838F5" stroke-width="7.6"/>
<path d="M902.5 663 L892.3 643.5 L902.5 649.5 L912.7 643.5 Z" fill="#3838F5"/>
<line x1="1066.3" y1="555" x2="1067.5" y2="661.5" stroke="#3838F5" stroke-width="1.6" marker-end="url(#mb)"/>
<line x1="1187" y1="555" x2="1080.5" y2="660.3" stroke="#3838F5" stroke-width="1.6" marker-end="url(#mb)"/>
<line x1="1013" y1="682" x2="954.5" y2="682" stroke="#3838F5" stroke-width="1.6" marker-end="url(#mb)"/>
<line x1="1147" y1="682.5" x2="1105" y2="682.5" stroke="#3838F5" stroke-width="1.6" marker-end="url(#mb)"/>
<rect x="855.5" y="520.5" width="107" height="32.8" rx="4.5" fill="#FB55F1"/>
<rect x="1012.4" y="520.6" width="97.1" height="32.5" rx="5.5" fill="#FDE6D2" stroke="#D29A16" stroke-width="3.7"/>
<rect x="1141.8" y="520.6" width="77.8" height="32.5" rx="5.5" fill="#FDE6D2" stroke="#D29A16" stroke-width="3.7"/>
<rect x="852.4" y="663.1" width="104.6" height="38.8" rx="5.5" fill="#FDE6D2" stroke="#D29A16" stroke-width="3.7"/>
<rect x="1015.6" y="663.9" width="87.5" height="38.1" rx="5.5" fill="#FDE6D2" stroke="#D29A16" stroke-width="3.7"/>
<rect x="1148.8" y="663.9" width="71.3" height="35.6" rx="5.5" fill="#FDE6D2" stroke="#D29A16" stroke-width="3.7"/>
<text x="863" y="533.8" font-size="11.6" font-weight="bold" textLength="94" lengthAdjust="spacingAndGlyphs">Panicle numbers</text>
<text x="866" y="547.5" font-size="11.6" font-weight="bold" textLength="38" lengthAdjust="spacingAndGlyphs">per m²</text>
<text x="1018" y="535" font-size="11.6" fill="#111" textLength="85" lengthAdjust="spacingAndGlyphs">Spikelet number</text>
<text x="1018" y="549.5" font-size="11.6" fill="#111" textLength="58" lengthAdjust="spacingAndGlyphs">per panicle</text>
<text x="1147.5" y="535" font-size="11.6" fill="#111" textLength="63.5" lengthAdjust="spacingAndGlyphs">Filled grains</text>
<text x="1170.8" y="549.3" font-size="11.6" fill="#111" textLength="20.5" lengthAdjust="spacingAndGlyphs">rate</text>
<text x="854.5" y="677.5" font-size="11.6" fill="#111" textLength="88.5" lengthAdjust="spacingAndGlyphs">Rice yield per m²</text>
<text x="877.5" y="691.8" font-size="11.6" fill="#111" textLength="41.5" lengthAdjust="spacingAndGlyphs">R²=0.51</text>
<text x="1025.5" y="679.5" font-size="11.6" fill="#111" textLength="75.5" lengthAdjust="spacingAndGlyphs">Panicle weight</text>
<text x="1042.5" y="693.3" font-size="11.6" fill="#111" textLength="41.5" lengthAdjust="spacingAndGlyphs">R²=0.92</text>
<text x="1157" y="679.3" font-size="11.6" fill="#111" textLength="55.5" lengthAdjust="spacingAndGlyphs">1000-grain</text>
<text x="1169" y="693.3" font-size="11.6" fill="#111" textLength="34.5" lengthAdjust="spacingAndGlyphs">weight</text>
<text x="1042.5" y="471.8" font-size="11.6" fill="#111">0.12</text>
<text x="1072" y="495" font-size="11.6" fill="#111">-0.11</text>
<text x="973.3" y="559.3" font-size="11.6" fill="#111">-0.24</text>
<text x="1110.8" y="559.3" font-size="11.6" fill="#111">-0.19</text>
<text x="919.5" y="612" font-size="11.6" fill="#111">0.70***</text>
<text x="1026.8" y="609.5" font-size="11.6" fill="#111">0.96***</text>
<text x="1101.8" y="608.8" font-size="11.6" fill="#111">0.08*</text>
<text x="1144" y="608" font-size="11.6" fill="#111">-0.06</text>
<text x="1206.3" y="608" font-size="11.6" fill="#111">0.07</text>
<text x="974.3" y="670.8" font-size="11.6" fill="#111">0.38***</text>
<text x="1110" y="671.3" font-size="11.6" fill="#111">0.22***</text>
</g>
<polygon points="226.5,437.7 205.5,417.3 216.1,417.3 216.1,396.1 236.9,396.1 236.9,417.3 247.5,417.3" fill="#FFC000" stroke="#BF9000" stroke-width="1.9" stroke-linejoin="miter"/>
<polygon points="179.6,546.4 200.1,526 200.1,536.1 221,536.1 221,556.7 200.1,556.7 200.1,566.8" fill="#FFC000" stroke="#BF9000" stroke-width="1.9" stroke-linejoin="miter"/>
<polygon points="661.6,391.4 640.3,412.8 651.1,412.8 651.1,433.6 672.1,433.6 672.1,412.8 682.9,412.8" fill="#FFC000" stroke="#BF9000" stroke-width="1.9" stroke-linejoin="miter"/>
<polygon points="1063.9,396.2 1043,416.8 1053.5,416.8 1053.5,437.8 1074.4,437.8 1074.4,416.8 1084.8,416.8" fill="#FFC000" stroke="#BF9000" stroke-width="1.9" stroke-linejoin="miter"/>
<polygon points="661.6,715.3 641,735.6 651.1,735.6 651.1,756.9 672.1,756.9 672.1,735.6 682.2,735.6" fill="#FFC000" stroke="#BF9000" stroke-width="1.9" stroke-linejoin="miter"/>
<polygon points="1064.5,717.5 1043.2,738.8 1054,738.8 1054,759.9 1075,759.9 1075,738.8 1085.8,738.8" fill="#FFC000" stroke="#BF9000" stroke-width="1.9" stroke-linejoin="miter"/>
<rect x="24.7" y="595.8" width="367.5" height="101" fill="#C9C9C9"/>
<rect x="25" y="955.3" width="1207.8" height="149.7" fill="#C9C9C9"/>
<line x1="25" y1="955.2" x2="1232.8" y2="955.2" stroke="#000" stroke-width="1.6"/>
<g id="plants_mid">
<path d="M73.3 596.3C58.9 599.4 53.2 605.1 52.5 614.4" fill="none" stroke="#8C6A3E" stroke-width="1.5" stroke-linecap="round"/>
<path d="M59.6 604.2q2.6 5 1 9.3" fill="none" stroke="#8C6A3E" stroke-width="0.8" stroke-linecap="round"/>
<path d="M74.3 596.3C64.2 598.7 57.9 607.2 59.3 618.6" fill="none" stroke="#8C6A3E" stroke-width="1.3" stroke-linecap="round"/>
<path d="M64.7 606.1q1.9 5 -4.9 13.7" fill="none" stroke="#8C6A3E" stroke-width="0.8" stroke-linecap="round"/>
<path d="M75.4 596.3C69.8 597.8 70.4 610.7 68.8 625.6" fill="none" stroke="#8C6A3E" stroke-width="1.6" stroke-linecap="round"/>
<path d="M70.1 609.2q1 5 1.4 9.1" fill="none" stroke="#8C6A3E" stroke-width="0.8" stroke-linecap="round"/>
<path d="M76 596.3C72.7 597.4 71 607.6 71.3 619.4" fill="none" stroke="#8C6A3E" stroke-width="1.3" stroke-linecap="round"/>
<path d="M72.9 606.4q0.6 5 -5.6 11.2" fill="none" stroke="#8C6A3E" stroke-width="0.8" stroke-linecap="round"/>
<path d="M77.3 596.3C79.1 597.1 80 610.6 80.2 625.5" fill="none" stroke="#8C6A3E" stroke-width="1.5" stroke-linecap="round"/>
<path d="M79 609.1q-0.3 5 1.9 11.2" fill="none" stroke="#8C6A3E" stroke-width="0.8" stroke-linecap="round"/>
<path d="M78.2 596.3C83.7 597.8 86.1 610.8 87.3 625.9" fill="none" stroke="#8C6A3E" stroke-width="1.6" stroke-linecap="round"/>
<path d="M83.4 609.3q-1 5 -2.2 9.6" fill="none" stroke="#8C6A3E" stroke-width="0.8" stroke-linecap="round"/>
<path d="M79.2 596.3C88.8 598.6 90.6 607.4 90.7 619" fill="none" stroke="#8C6A3E" stroke-width="1.7" stroke-linecap="round"/>
<path d="M88.3 606.2q-1.8 5 -1.4 14.7" fill="none" stroke="#8C6A3E" stroke-width="0.8" stroke-linecap="round"/>
<path d="M80.5 596.3C95.6 599.6 94.2 602.7 98.2 609.6" fill="none" stroke="#8C6A3E" stroke-width="1.5" stroke-linecap="round"/>
<path d="M94.9 602q-2.8 5 5.8 10.8" fill="none" stroke="#8C6A3E" stroke-width="0.8" stroke-linecap="round"/>
<path d="M68.8 598.3Q76.8 594.3 84.8 598.3" fill="none" stroke="#8C6A3E" stroke-width="2.2" stroke-linecap="round"/>
<path d="M93.7 596.3C78.4 599.6 70.2 604.1 71 612.4" fill="none" stroke="#8C6A3E" stroke-width="1.2" stroke-linecap="round"/>
<path d="M79.2 603.3q2.8 5 -2 14.7" fill="none" stroke="#8C6A3E" stroke-width="0.8" stroke-linecap="round"/>
<path d="M95.2 596.3C85.7 598.6 82.3 605.5 83.5 615.2" fill="none" stroke="#8C6A3E" stroke-width="1.2" stroke-linecap="round"/>
<path d="M86.2 604.5q1.8 5 3.6 9.2" fill="none" stroke="#8C6A3E" stroke-width="0.8" stroke-linecap="round"/>
<path d="M96 596.3C90.1 597.9 88.8 607 87.8 618.2" fill="none" stroke="#8C6A3E" stroke-width="1.2" stroke-linecap="round"/>
<path d="M90.4 605.9q1.1 5 1.7 8.8" fill="none" stroke="#8C6A3E" stroke-width="0.8" stroke-linecap="round"/>
<path d="M96.9 596.3C94.7 597.2 94.8 609.2 94.1 622.5" fill="none" stroke="#8C6A3E" stroke-width="1.7" stroke-linecap="round"/>
<path d="M94.8 607.8q0.4 5 -2.4 14.2" fill="none" stroke="#8C6A3E" stroke-width="0.8" stroke-linecap="round"/>
<path d="M97.8 596.3C99.1 597 99.4 612.7 99.6 629.7" fill="none" stroke="#8C6A3E" stroke-width="1.2" stroke-linecap="round"/>
<path d="M99 611q-0.2 5 5.9 9.5" fill="none" stroke="#8C6A3E" stroke-width="0.8" stroke-linecap="round"/>
<path d="M98.8 596.3C104.3 597.8 107.5 607.8 107.3 619.9" fill="none" stroke="#8C6A3E" stroke-width="1.2" stroke-linecap="round"/>
<path d="M104 606.6q-1 5 -4.9 12.1" fill="none" stroke="#8C6A3E" stroke-width="0.8" stroke-linecap="round"/>
<path d="M99.8 596.3C109.3 598.6 113.4 606 113.7 616.2" fill="none" stroke="#8C6A3E" stroke-width="1.8" stroke-linecap="round"/>
<path d="M108.9 605q-1.8 5 -0.2 12" fill="none" stroke="#8C6A3E" stroke-width="0.8" stroke-linecap="round"/>
<path d="M101.2 596.3C116.4 599.6 116.3 602.5 120.3 609.2" fill="none" stroke="#8C6A3E" stroke-width="1.7" stroke-linecap="round"/>
<path d="M115.7 601.8q-2.8 5 -3 9.3" fill="none" stroke="#8C6A3E" stroke-width="0.8" stroke-linecap="round"/>
<path d="M89.5 598.3Q97.5 594.3 105.5 598.3" fill="none" stroke="#8C6A3E" stroke-width="2.2" stroke-linecap="round"/>
<path d="M118 596.3C104.4 599.3 99.6 603.4 95.7 611" fill="none" stroke="#8C6A3E" stroke-width="1.8" stroke-linecap="round"/>
<path d="M105 602.6q2.5 5 1.2 11" fill="none" stroke="#8C6A3E" stroke-width="0.8" stroke-linecap="round"/>
<path d="M118.5 596.3C107.4 598.9 104.5 607.2 105.3 618.5" fill="none" stroke="#8C6A3E" stroke-width="1.6" stroke-linecap="round"/>
<path d="M107.9 606q2.1 5 -2.9 13.8" fill="none" stroke="#8C6A3E" stroke-width="0.8" stroke-linecap="round"/>
<path d="M119.9 596.3C114 597.9 113.2 607 112.2 618.1" fill="none" stroke="#8C6A3E" stroke-width="1.2" stroke-linecap="round"/>
<path d="M114.3 605.9q1.1 5 -3.3 11.9" fill="none" stroke="#8C6A3E" stroke-width="0.8" stroke-linecap="round"/>
<path d="M121 596.3C119.9 597 119.7 609.8 119.4 623.7" fill="none" stroke="#8C6A3E" stroke-width="1.3" stroke-linecap="round"/>
<path d="M120 608.4q0.2 5 -5.8 9.9" fill="none" stroke="#8C6A3E" stroke-width="0.8" stroke-linecap="round"/>
<path d="M121.8 596.3C123.7 597.1 124 608.8 124 621.9" fill="none" stroke="#8C6A3E" stroke-width="1.5" stroke-linecap="round"/>
<path d="M123.6 607.5q-0.3 5 -4.4 10.5" fill="none" stroke="#8C6A3E" stroke-width="0.8" stroke-linecap="round"/>
<path d="M123.1 596.3C130.2 598.1 133.7 608.4 134.8 621" fill="none" stroke="#8C6A3E" stroke-width="1.5" stroke-linecap="round"/>
<path d="M129.8 607.1q-1.3 5 -4.3 8.2" fill="none" stroke="#8C6A3E" stroke-width="0.8" stroke-linecap="round"/>
<path d="M123.5 596.3C132.4 598.4 135.3 607.6 137.9 619.3" fill="none" stroke="#8C6A3E" stroke-width="1.1" stroke-linecap="round"/>
<path d="M132 606.4q-1.6 5 1.6 11.4" fill="none" stroke="#8C6A3E" stroke-width="0.8" stroke-linecap="round"/>
<path d="M124.9 596.3C139.8 599.5 146.8 605 144.6 614.2" fill="none" stroke="#8C6A3E" stroke-width="1.5" stroke-linecap="round"/>
<path d="M139 604.1q-2.7 5 2.8 14.3" fill="none" stroke="#8C6A3E" stroke-width="0.8" stroke-linecap="round"/>
<path d="M113.3 598.3Q121.3 594.3 129.3 598.3" fill="none" stroke="#8C6A3E" stroke-width="2.2" stroke-linecap="round"/>
<path d="M140.7 596.3C127 599.3 123.6 605.2 120 614.5" fill="none" stroke="#8C6A3E" stroke-width="1.4" stroke-linecap="round"/>
<path d="M127.7 604.2q2.5 5 2.2 14.3" fill="none" stroke="#8C6A3E" stroke-width="0.8" stroke-linecap="round"/>
<path d="M141.7 596.3C132.5 598.5 131.3 607.7 129.1 619.7" fill="none" stroke="#8C6A3E" stroke-width="1.5" stroke-linecap="round"/>
<path d="M133 606.5q1.7 5 1.5 10.7" fill="none" stroke="#8C6A3E" stroke-width="0.8" stroke-linecap="round"/>
<path d="M142.6 596.3C136.7 597.9 134.7 606.5 133.9 617.3" fill="none" stroke="#8C6A3E" stroke-width="1.8" stroke-linecap="round"/>
<path d="M137 605.5q1.1 5 4.6 13.1" fill="none" stroke="#8C6A3E" stroke-width="0.8" stroke-linecap="round"/>
<path d="M143.4 596.3C141.1 597.2 139.9 610.7 139.9 625.6" fill="none" stroke="#8C6A3E" stroke-width="1.7" stroke-linecap="round"/>
<path d="M141.2 609.2q0.4 5 -5 13.3" fill="none" stroke="#8C6A3E" stroke-width="0.8" stroke-linecap="round"/>
<path d="M144.2 596.3C145 596.9 145.4 611 145.4 626.2" fill="none" stroke="#8C6A3E" stroke-width="1.6" stroke-linecap="round"/>
<path d="M145 609.5q-0.1 5 -0 12.3" fill="none" stroke="#8C6A3E" stroke-width="0.8" stroke-linecap="round"/>
<path d="M145.8 596.3C153 598.1 155.3 605.6 155.1 615.5" fill="none" stroke="#8C6A3E" stroke-width="1.6" stroke-linecap="round"/>
<path d="M152.6 604.7q-1.3 5 -3.6 9.2" fill="none" stroke="#8C6A3E" stroke-width="0.8" stroke-linecap="round"/>
<path d="M146.8 596.3C158 598.9 160.7 605.4 163.5 614.9" fill="none" stroke="#8C6A3E" stroke-width="1.4" stroke-linecap="round"/>
<path d="M157.4 604.4q-2.1 5 2 9.4" fill="none" stroke="#8C6A3E" stroke-width="0.8" stroke-linecap="round"/>
<path d="M147.5 596.3C161.5 599.4 166 605.3 169.5 614.7" fill="none" stroke="#8C6A3E" stroke-width="1.4" stroke-linecap="round"/>
<path d="M160.8 604.3q-2.6 5 1 10.2" fill="none" stroke="#8C6A3E" stroke-width="0.8" stroke-linecap="round"/>
<path d="M136 598.3Q144 594.3 152 598.3" fill="none" stroke="#8C6A3E" stroke-width="2.2" stroke-linecap="round"/>
<path d="M77.1 595.8Q74.9 533.8 71.9 501.4Q82 533.3 80.6 595.8Z" fill="#2E8A58" stroke="#1E3A2C" stroke-width="0.7" stroke-linejoin="round"/>
<path d="M77.5 595.8Q75.5 523.2 73.7 485.6Q82.2 522.9 80.8 595.8Z" fill="#43AE82" stroke="#1E3A2C" stroke-width="0.7" stroke-linejoin="round"/>
<path d="M72.6 595.8Q71.1 541.4 73.5 513.4Q77 541.4 75.6 595.8Z" fill="#43AE82" stroke="#1E3A2C" stroke-width="0.7" stroke-linejoin="round"/>
<path d="M73.4 595.8Q70.7 502.3 56.9 453.4Q77.2 501.4 76.7 595.8Z" fill="#3F8F4A" stroke="#1E3A2C" stroke-width="0.7" stroke-linejoin="round"/>
<path d="M78.9 595.8Q77.2 537.9 49.4 508.1" fill="none" stroke="#23302a" stroke-width="0.8" stroke-linecap="round"/>
<path d="M77.7 595.8Q78.3 490.7 86.7 436.6" fill="none" stroke="#23302a" stroke-width="0.8" stroke-linecap="round"/>
<path d="M74.5 595.8Q71.8 535.2 29.4 504" fill="none" stroke="#23302a" stroke-width="0.8" stroke-linecap="round"/>
<path d="M75.1 595.8Q76.6 535.3 100 504.1" fill="none" stroke="#23302a" stroke-width="1.3" stroke-linecap="round"/>
<path d="M74.4 595.8Q74.1 523.4 68.1 486.2" fill="none" stroke="#23302a" stroke-width="1.3" stroke-linecap="round"/>
<path d="M79.9 595.8Q79.9 541 79 512.7" fill="none" stroke="#23302a" stroke-width="0.9" stroke-linecap="round"/>
<path d="M74 595.8Q72.8 492.4 55.3 439.1" fill="none" stroke="#23302a" stroke-width="0.7" stroke-linecap="round"/>
<path d="M72.8 595.8Q71.5 518.9 51 479.3" fill="none" stroke="#23302a" stroke-width="1.1" stroke-linecap="round"/>
<path d="M79.3 595.8Q77.8 501.1 53.6 452.3" fill="none" stroke="#23302a" stroke-width="1" stroke-linecap="round"/>
<path d="M78.4 595.8Q76.9 511.5 52 468.1" fill="none" stroke="#23302a" stroke-width="0.7" stroke-linecap="round"/>
<path d="M78.8 595.8Q80 483.7 99.5 425.9" fill="none" stroke="#23302a" stroke-width="1.2" stroke-linecap="round"/>
<path d="M95 595.8Q91.7 536.8 64.1 504.9Q97.5 534.8 98.1 595.8Z" fill="#2E8A58" stroke="#1E3A2C" stroke-width="0.7" stroke-linejoin="round"/>
<path d="M96.6 595.8Q94.4 532.1 91.1 498.9Q101.5 531.6 100.1 595.8Z" fill="#2E8A58" stroke="#1E3A2C" stroke-width="0.7" stroke-linejoin="round"/>
<path d="M99.2 595.8Q98.4 542.5 109.9 515.5Q103.9 543.1 102 595.8Z" fill="#62A944" stroke="#1E3A2C" stroke-width="0.7" stroke-linejoin="round"/>
<path d="M95.7 595.8Q95.4 508.7 118.3 464.6Q101.6 509.7 98.8 595.8Z" fill="#62A944" stroke="#1E3A2C" stroke-width="0.7" stroke-linejoin="round"/>
<path d="M101.1 595.8Q102.3 484.5 120.9 427.2" fill="none" stroke="#23302a" stroke-width="0.8" stroke-linecap="round"/>
<path d="M100.8 595.8Q99.8 519.4 83.5 480" fill="none" stroke="#23302a" stroke-width="0.9" stroke-linecap="round"/>
<path d="M96 595.8Q97.8 515.4 125.5 474" fill="none" stroke="#23302a" stroke-width="0.9" stroke-linecap="round"/>
<path d="M94.7 595.8Q93.3 487 71.8 431" fill="none" stroke="#23302a" stroke-width="1.1" stroke-linecap="round"/>
<path d="M93.9 595.8Q96.1 492.1 130.8 438.7" fill="none" stroke="#23302a" stroke-width="1.3" stroke-linecap="round"/>
<path d="M95.4 595.8Q95.5 506.9 97.4 461.1" fill="none" stroke="#23302a" stroke-width="1.1" stroke-linecap="round"/>
<path d="M96.9 595.8Q98.2 509.9 118.5 465.7" fill="none" stroke="#23302a" stroke-width="0.7" stroke-linecap="round"/>
<path d="M97.4 595.8Q99.1 484.3 125 426.8" fill="none" stroke="#23302a" stroke-width="1.2" stroke-linecap="round"/>
<path d="M101.1 595.8Q99.1 526.7 68.4 491.1" fill="none" stroke="#23302a" stroke-width="1.1" stroke-linecap="round"/>
<path d="M97 595.8Q98.1 488.8 115.7 433.6" fill="none" stroke="#23302a" stroke-width="0.8" stroke-linecap="round"/>
<path d="M97.1 595.8Q98.5 500.2 119.8 450.9" fill="none" stroke="#23302a" stroke-width="1.3" stroke-linecap="round"/>
<path d="M119.5 595.8Q119.8 544.1 148.6 519Q125.4 546.1 122.5 595.8Z" fill="#2E8A58" stroke="#1E3A2C" stroke-width="0.7" stroke-linejoin="round"/>
<path d="M119.3 595.8Q117.3 510.5 115.5 466.4Q124.2 510.2 122.8 595.8Z" fill="#2E8A58" stroke="#1E3A2C" stroke-width="0.7" stroke-linejoin="round"/>
<path d="M122.9 595.8Q121.1 545.9 119.2 519.9Q127.3 545.5 126.1 595.8Z" fill="#3F8F4A" stroke="#1E3A2C" stroke-width="0.7" stroke-linejoin="round"/>
<path d="M119.7 595.8Q120 505.1 149.6 459.3Q125.9 506.3 122.8 595.8Z" fill="#2B7350" stroke="#1E3A2C" stroke-width="0.7" stroke-linejoin="round"/>
<path d="M123.6 595.8Q125.4 504.2 154.3 457" fill="none" stroke="#23302a" stroke-width="1.2" stroke-linecap="round"/>
<path d="M123.4 595.8Q124.5 522.6 141.8 484.9" fill="none" stroke="#23302a" stroke-width="0.9" stroke-linecap="round"/>
<path d="M121.2 595.8Q122.5 499.3 142.5 449.6" fill="none" stroke="#23302a" stroke-width="1.2" stroke-linecap="round"/>
<path d="M124.9 595.8Q125.9 500.1 141.5 450.8" fill="none" stroke="#23302a" stroke-width="1.1" stroke-linecap="round"/>
<path d="M121.7 595.8Q122.4 483 133.6 424.9" fill="none" stroke="#23302a" stroke-width="0.9" stroke-linecap="round"/>
<path d="M123.8 595.8Q124.8 510.4 140.2 466.4" fill="none" stroke="#23302a" stroke-width="1.1" stroke-linecap="round"/>
<path d="M122.5 595.8Q124.1 503.4 149.2 455.8" fill="none" stroke="#23302a" stroke-width="1.1" stroke-linecap="round"/>
<path d="M124 595.8Q125.7 503.5 151.4 456" fill="none" stroke="#23302a" stroke-width="1.2" stroke-linecap="round"/>
<path d="M125 595.8Q125.9 541.6 141.4 513.6" fill="none" stroke="#23302a" stroke-width="1" stroke-linecap="round"/>
<path d="M124 595.8Q124.3 492.4 129.9 439.1" fill="none" stroke="#23302a" stroke-width="1.3" stroke-linecap="round"/>
<path d="M123.1 595.8Q123.2 524.3 126.2 487.4" fill="none" stroke="#23302a" stroke-width="1.1" stroke-linecap="round"/>
<path d="M143 595.8Q141 535.7 138.2 504.3Q147.4 535.2 146.2 595.8Z" fill="#3F8F4A" stroke="#1E3A2C" stroke-width="0.7" stroke-linejoin="round"/>
<path d="M145.2 595.8Q143.8 524.2 146.3 487.3Q149.3 524.2 147.9 595.8Z" fill="#2E8A58" stroke="#1E3A2C" stroke-width="0.7" stroke-linejoin="round"/>
<path d="M143.6 595.8Q141.9 526 139.6 489.8Q147.2 525.7 146.2 595.8Z" fill="#2E8A58" stroke="#1E3A2C" stroke-width="0.7" stroke-linejoin="round"/>
<path d="M145.6 595.8Q143.3 532.7 138.7 499.7Q150.4 532 149.2 595.8Z" fill="#43AE82" stroke="#1E3A2C" stroke-width="0.7" stroke-linejoin="round"/>
<path d="M142.5 595.8Q141.6 490.4 127.4 436.1" fill="none" stroke="#23302a" stroke-width="0.8" stroke-linecap="round"/>
<path d="M143.7 595.8Q143.3 484.4 137.4 427.1" fill="none" stroke="#23302a" stroke-width="0.9" stroke-linecap="round"/>
<path d="M141.9 595.8Q143.4 518.1 167.5 478.1" fill="none" stroke="#23302a" stroke-width="1.2" stroke-linecap="round"/>
<path d="M142.2 595.8Q141.1 506.9 123.5 461.1" fill="none" stroke="#23302a" stroke-width="0.9" stroke-linecap="round"/>
<path d="M143 595.8Q142.3 532.8 131.8 500.3" fill="none" stroke="#23302a" stroke-width="0.7" stroke-linecap="round"/>
<path d="M144.4 595.8Q145.8 488 167.7 432.5" fill="none" stroke="#23302a" stroke-width="0.9" stroke-linecap="round"/>
<path d="M146.5 595.8Q147.7 540.5 165.3 512" fill="none" stroke="#23302a" stroke-width="1" stroke-linecap="round"/>
<path d="M143 595.8Q145.3 521.3 182 482.9" fill="none" stroke="#23302a" stroke-width="0.8" stroke-linecap="round"/>
<path d="M147.7 595.8Q148.8 516.5 166.4 475.7" fill="none" stroke="#23302a" stroke-width="1.3" stroke-linecap="round"/>
<path d="M147.1 595.8Q148.4 503.6 167.3 456.1" fill="none" stroke="#23302a" stroke-width="0.7" stroke-linecap="round"/>
<path d="M144.9 595.8Q144.1 516.6 131.3 475.9" fill="none" stroke="#23302a" stroke-width="0.8" stroke-linecap="round"/>
<path d="M74.4 595.8Q72.4 551.5 66.5 521.1Q79.5 550.5 79.2 595.8Z" fill="#4C9A46" stroke="#1E3A2C" stroke-width="0.7" stroke-linejoin="round"/>
<path d="M95.1 595.8Q93.2 547.2 89 514.1Q100.4 546.4 99.9 595.8Z" fill="#4C9A46" stroke="#1E3A2C" stroke-width="0.7" stroke-linejoin="round"/>
<path d="M95.1 595.8Q93.5 528.9 93 484.1Q100.7 528.6 99.9 595.8Z" fill="#4C9A46" stroke="#1E3A2C" stroke-width="0.7" stroke-linejoin="round"/>
<path d="M95.1 595.8Q94.4 526.2 103.7 480.1Q101.6 526.6 99.9 595.8Z" fill="#4C9A46" stroke="#1E3A2C" stroke-width="0.7" stroke-linejoin="round"/>
<path d="M118.9 595.8Q117.4 538.9 117 500.7Q124.6 538.6 123.7 595.8Z" fill="#4C9A46" stroke="#1E3A2C" stroke-width="0.7" stroke-linejoin="round"/>
<path d="M118.9 595.8Q118.5 561.1 130.6 539Q125.6 562.3 123.7 595.8Z" fill="#4C9A46" stroke="#1E3A2C" stroke-width="0.7" stroke-linejoin="round"/>
<path d="M141.6 595.8Q140.6 535.5 147 495.5Q147.8 535.7 146.4 595.8Z" fill="#4C9A46" stroke="#1E3A2C" stroke-width="0.7" stroke-linejoin="round"/>
<path d="M141.6 595.8Q141.8 545.5 160.6 513.1Q148.9 546.9 146.4 595.8Z" fill="#4C9A46" stroke="#1E3A2C" stroke-width="0.7" stroke-linejoin="round"/>
<path d="M66.5 521.1Q46.6 500.3 26.8 479.5" fill="none" stroke="#23302a" stroke-width="0.7" stroke-linecap="round"/>
<g fill="#F8A922" stroke="#A9650F" stroke-width="0.75"><ellipse cx="61.9" cy="520.1" rx="4.7" ry="2.7" transform="rotate(-160 61.9 520.1)"/><ellipse cx="64" cy="513.9" rx="4.7" ry="2.7" transform="rotate(-112 64 513.9)"/><ellipse cx="57.9" cy="515.6" rx="4.7" ry="2.7" transform="rotate(-160 57.9 515.6)"/><ellipse cx="60.1" cy="509.3" rx="4.7" ry="2.7" transform="rotate(-112 60.1 509.3)"/><ellipse cx="53.9" cy="511.3" rx="4.7" ry="2.7" transform="rotate(-160 53.9 511.3)"/><ellipse cx="56.1" cy="505" rx="4.7" ry="2.7" transform="rotate(-112 56.1 505)"/><ellipse cx="50" cy="507.2" rx="4.7" ry="2.7" transform="rotate(-160 50 507.2)"/><ellipse cx="52.1" cy="501" rx="4.7" ry="2.7" transform="rotate(-112 52.1 501)"/><ellipse cx="46" cy="503.4" rx="4.7" ry="2.7" transform="rotate(-160 46 503.4)"/><ellipse cx="48.1" cy="497.1" rx="4.7" ry="2.7" transform="rotate(-112 48.1 497.1)"/><ellipse cx="42" cy="499.8" rx="4.7" ry="2.7" transform="rotate(-160 42 499.8)"/><ellipse cx="44.2" cy="493.6" rx="4.7" ry="2.7" transform="rotate(-112 44.2 493.6)"/><ellipse cx="38" cy="496.5" rx="4.7" ry="2.7" transform="rotate(-160 38 496.5)"/><ellipse cx="40.2" cy="490.2" rx="4.7" ry="2.7" transform="rotate(-112 40.2 490.2)"/><ellipse cx="37" cy="492.6" rx="4.6" ry="2.4" transform="rotate(-136 37 492.6)"/></g>
<path d="M89 514.1Q66.2 493.9 43.4 473.8" fill="none" stroke="#23302a" stroke-width="0.7" stroke-linecap="round"/>
<g fill="#F8A922" stroke="#A9650F" stroke-width="0.75"><ellipse cx="84.1" cy="513.3" rx="4.7" ry="2.7" transform="rotate(-164.8 84.1 513.3)"/><ellipse cx="85.8" cy="506.9" rx="4.7" ry="2.7" transform="rotate(-116.8 85.8 506.9)"/><ellipse cx="79.6" cy="508.8" rx="4.7" ry="2.7" transform="rotate(-164.8 79.6 508.8)"/><ellipse cx="81.2" cy="502.4" rx="4.7" ry="2.7" transform="rotate(-116.8 81.2 502.4)"/><ellipse cx="75" cy="504.6" rx="4.7" ry="2.7" transform="rotate(-164.8 75 504.6)"/><ellipse cx="76.7" cy="498.2" rx="4.7" ry="2.7" transform="rotate(-116.8 76.7 498.2)"/><ellipse cx="70.5" cy="500.7" rx="4.7" ry="2.7" transform="rotate(-164.8 70.5 500.7)"/><ellipse cx="72.1" cy="494.2" rx="4.7" ry="2.7" transform="rotate(-116.8 72.1 494.2)"/><ellipse cx="65.9" cy="497" rx="4.7" ry="2.7" transform="rotate(-164.8 65.9 497)"/><ellipse cx="67.5" cy="490.6" rx="4.7" ry="2.7" transform="rotate(-116.8 67.5 490.6)"/><ellipse cx="61.3" cy="493.5" rx="4.7" ry="2.7" transform="rotate(-164.8 61.3 493.5)"/><ellipse cx="63" cy="487.1" rx="4.7" ry="2.7" transform="rotate(-116.8 63 487.1)"/><ellipse cx="56.8" cy="490.3" rx="4.7" ry="2.7" transform="rotate(-164.8 56.8 490.3)"/><ellipse cx="58.4" cy="483.9" rx="4.7" ry="2.7" transform="rotate(-116.8 58.4 483.9)"/><ellipse cx="54.9" cy="486.3" rx="4.6" ry="2.4" transform="rotate(-140.8 54.9 486.3)"/></g>
<path d="M93 484.1Q72 465.9 51 447.7" fill="none" stroke="#23302a" stroke-width="0.7" stroke-linecap="round"/>
<g fill="#F8A922" stroke="#A9650F" stroke-width="0.75"><ellipse cx="88.4" cy="483.6" rx="4.7" ry="2.7" transform="rotate(-165.3 88.4 483.6)"/><ellipse cx="90" cy="477.2" rx="4.7" ry="2.7" transform="rotate(-117.3 90 477.2)"/><ellipse cx="84.2" cy="479.6" rx="4.7" ry="2.7" transform="rotate(-165.3 84.2 479.6)"/><ellipse cx="85.8" cy="473.2" rx="4.7" ry="2.7" transform="rotate(-117.3 85.8 473.2)"/><ellipse cx="80" cy="475.8" rx="4.7" ry="2.7" transform="rotate(-165.3 80 475.8)"/><ellipse cx="81.6" cy="469.4" rx="4.7" ry="2.7" transform="rotate(-117.3 81.6 469.4)"/><ellipse cx="75.8" cy="472.2" rx="4.7" ry="2.7" transform="rotate(-165.3 75.8 472.2)"/><ellipse cx="77.4" cy="465.8" rx="4.7" ry="2.7" transform="rotate(-117.3 77.4 465.8)"/><ellipse cx="71.6" cy="468.9" rx="4.7" ry="2.7" transform="rotate(-165.3 71.6 468.9)"/><ellipse cx="73.2" cy="462.4" rx="4.7" ry="2.7" transform="rotate(-117.3 73.2 462.4)"/><ellipse cx="67.4" cy="465.8" rx="4.7" ry="2.7" transform="rotate(-165.3 67.4 465.8)"/><ellipse cx="69" cy="459.3" rx="4.7" ry="2.7" transform="rotate(-117.3 69 459.3)"/><ellipse cx="63.2" cy="462.9" rx="4.7" ry="2.7" transform="rotate(-165.3 63.2 462.9)"/><ellipse cx="64.8" cy="456.5" rx="4.7" ry="2.7" transform="rotate(-117.3 64.8 456.5)"/><ellipse cx="61.9" cy="459.2" rx="4.6" ry="2.4" transform="rotate(-141.3 61.9 459.2)"/></g>
<path d="M103.7 480.1Q121.7 455.4 139.7 430.7" fill="none" stroke="#23302a" stroke-width="0.7" stroke-linecap="round"/>
<g fill="#F8A922" stroke="#A9650F" stroke-width="0.75"><ellipse cx="103.7" cy="474.6" rx="4.7" ry="2.7" transform="rotate(-75.7 103.7 474.6)"/><ellipse cx="110.1" cy="476.1" rx="4.7" ry="2.7" transform="rotate(-27.7 110.1 476.1)"/><ellipse cx="107.3" cy="469.3" rx="4.7" ry="2.7" transform="rotate(-75.7 107.3 469.3)"/><ellipse cx="113.7" cy="470.8" rx="4.7" ry="2.7" transform="rotate(-27.7 113.7 470.8)"/><ellipse cx="110.9" cy="464.2" rx="4.7" ry="2.7" transform="rotate(-75.7 110.9 464.2)"/><ellipse cx="117.3" cy="465.8" rx="4.7" ry="2.7" transform="rotate(-27.7 117.3 465.8)"/><ellipse cx="114.5" cy="459.5" rx="4.7" ry="2.7" transform="rotate(-75.7 114.5 459.5)"/><ellipse cx="120.9" cy="461" rx="4.7" ry="2.7" transform="rotate(-27.7 120.9 461)"/><ellipse cx="118.1" cy="454.9" rx="4.7" ry="2.7" transform="rotate(-75.7 118.1 454.9)"/><ellipse cx="124.5" cy="456.4" rx="4.7" ry="2.7" transform="rotate(-27.7 124.5 456.4)"/><ellipse cx="121.7" cy="450.6" rx="4.7" ry="2.7" transform="rotate(-75.7 121.7 450.6)"/><ellipse cx="128.1" cy="452.1" rx="4.7" ry="2.7" transform="rotate(-27.7 128.1 452.1)"/><ellipse cx="125.3" cy="446.6" rx="4.7" ry="2.7" transform="rotate(-75.7 125.3 446.6)"/><ellipse cx="131.7" cy="448.1" rx="4.7" ry="2.7" transform="rotate(-27.7 131.7 448.1)"/><ellipse cx="130.6" cy="446" rx="4.6" ry="2.4" transform="rotate(-51.7 130.6 446)"/></g>
<path d="M117 500.7Q136.8 483.2 156.6 465.7" fill="none" stroke="#23302a" stroke-width="0.7" stroke-linecap="round"/>
<g fill="#F8A922" stroke="#A9650F" stroke-width="0.75"><ellipse cx="117.6" cy="495.7" rx="4.7" ry="2.7" transform="rotate(-63.2 117.6 495.7)"/><ellipse cx="123.6" cy="498.6" rx="4.7" ry="2.7" transform="rotate(-15.2 123.6 498.6)"/><ellipse cx="121.6" cy="491.8" rx="4.7" ry="2.7" transform="rotate(-63.2 121.6 491.8)"/><ellipse cx="127.5" cy="494.7" rx="4.7" ry="2.7" transform="rotate(-15.2 127.5 494.7)"/><ellipse cx="125.5" cy="488.2" rx="4.7" ry="2.7" transform="rotate(-63.2 125.5 488.2)"/><ellipse cx="131.5" cy="491.1" rx="4.7" ry="2.7" transform="rotate(-15.2 131.5 491.1)"/><ellipse cx="129.5" cy="484.8" rx="4.7" ry="2.7" transform="rotate(-63.2 129.5 484.8)"/><ellipse cx="135.5" cy="487.6" rx="4.7" ry="2.7" transform="rotate(-15.2 135.5 487.6)"/><ellipse cx="133.4" cy="481.5" rx="4.7" ry="2.7" transform="rotate(-63.2 133.4 481.5)"/><ellipse cx="139.4" cy="484.4" rx="4.7" ry="2.7" transform="rotate(-15.2 139.4 484.4)"/><ellipse cx="137.4" cy="478.6" rx="4.7" ry="2.7" transform="rotate(-63.2 137.4 478.6)"/><ellipse cx="143.4" cy="481.4" rx="4.7" ry="2.7" transform="rotate(-15.2 143.4 481.4)"/><ellipse cx="141.4" cy="475.8" rx="4.7" ry="2.7" transform="rotate(-63.2 141.4 475.8)"/><ellipse cx="147.3" cy="478.7" rx="4.7" ry="2.7" transform="rotate(-15.2 147.3 478.7)"/><ellipse cx="146.1" cy="477" rx="4.6" ry="2.4" transform="rotate(-39.2 146.1 477)"/></g>
<path d="M130.6 539Q146.1 514.8 161.6 490.5" fill="none" stroke="#23302a" stroke-width="0.7" stroke-linecap="round"/>
<g fill="#F8A922" stroke="#A9650F" stroke-width="0.75"><ellipse cx="130.1" cy="533.8" rx="4.7" ry="2.7" transform="rotate(-79.3 130.1 533.8)"/><ellipse cx="136.6" cy="534.9" rx="4.7" ry="2.7" transform="rotate(-31.3 136.6 534.9)"/><ellipse cx="133.2" cy="528.6" rx="4.7" ry="2.7" transform="rotate(-79.3 133.2 528.6)"/><ellipse cx="139.7" cy="529.7" rx="4.7" ry="2.7" transform="rotate(-31.3 139.7 529.7)"/><ellipse cx="136.3" cy="523.7" rx="4.7" ry="2.7" transform="rotate(-79.3 136.3 523.7)"/><ellipse cx="142.8" cy="524.8" rx="4.7" ry="2.7" transform="rotate(-31.3 142.8 524.8)"/><ellipse cx="139.4" cy="519" rx="4.7" ry="2.7" transform="rotate(-79.3 139.4 519)"/><ellipse cx="145.9" cy="520.1" rx="4.7" ry="2.7" transform="rotate(-31.3 145.9 520.1)"/><ellipse cx="142.5" cy="514.5" rx="4.7" ry="2.7" transform="rotate(-79.3 142.5 514.5)"/><ellipse cx="149" cy="515.6" rx="4.7" ry="2.7" transform="rotate(-31.3 149 515.6)"/><ellipse cx="145.6" cy="510.3" rx="4.7" ry="2.7" transform="rotate(-79.3 145.6 510.3)"/><ellipse cx="152.1" cy="511.4" rx="4.7" ry="2.7" transform="rotate(-31.3 152.1 511.4)"/><ellipse cx="148.7" cy="506.3" rx="4.7" ry="2.7" transform="rotate(-79.3 148.7 506.3)"/><ellipse cx="155.2" cy="507.4" rx="4.7" ry="2.7" transform="rotate(-31.3 155.2 507.4)"/><ellipse cx="153.6" cy="505.8" rx="4.6" ry="2.4" transform="rotate(-55.3 153.6 505.8)"/></g>
<path d="M147 495.5Q163.2 473.1 179.4 450.8" fill="none" stroke="#23302a" stroke-width="0.7" stroke-linecap="round"/>
<g fill="#F8A922" stroke="#A9650F" stroke-width="0.75"><ellipse cx="146.7" cy="490.4" rx="4.7" ry="2.7" transform="rotate(-75.9 146.7 490.4)"/><ellipse cx="153.1" cy="491.9" rx="4.7" ry="2.7" transform="rotate(-27.9 153.1 491.9)"/><ellipse cx="149.9" cy="485.6" rx="4.7" ry="2.7" transform="rotate(-75.9 149.9 485.6)"/><ellipse cx="156.4" cy="487.1" rx="4.7" ry="2.7" transform="rotate(-27.9 156.4 487.1)"/><ellipse cx="153.2" cy="481" rx="4.7" ry="2.7" transform="rotate(-75.9 153.2 481)"/><ellipse cx="159.6" cy="482.5" rx="4.7" ry="2.7" transform="rotate(-27.9 159.6 482.5)"/><ellipse cx="156.4" cy="476.7" rx="4.7" ry="2.7" transform="rotate(-75.9 156.4 476.7)"/><ellipse cx="162.9" cy="478.2" rx="4.7" ry="2.7" transform="rotate(-27.9 162.9 478.2)"/><ellipse cx="159.7" cy="472.6" rx="4.7" ry="2.7" transform="rotate(-75.9 159.7 472.6)"/><ellipse cx="166.1" cy="474.1" rx="4.7" ry="2.7" transform="rotate(-27.9 166.1 474.1)"/><ellipse cx="162.9" cy="468.7" rx="4.7" ry="2.7" transform="rotate(-75.9 162.9 468.7)"/><ellipse cx="169.3" cy="470.2" rx="4.7" ry="2.7" transform="rotate(-27.9 169.3 470.2)"/><ellipse cx="166.1" cy="465" rx="4.7" ry="2.7" transform="rotate(-75.9 166.1 465)"/><ellipse cx="172.6" cy="466.5" rx="4.7" ry="2.7" transform="rotate(-27.9 172.6 466.5)"/><ellipse cx="170.9" cy="465" rx="4.6" ry="2.4" transform="rotate(-51.9 170.9 465)"/></g>
<path d="M160.6 513.1Q177.9 496.8 195.3 480.6" fill="none" stroke="#23302a" stroke-width="0.7" stroke-linecap="round"/>
<g fill="#F8A922" stroke="#A9650F" stroke-width="0.75"><ellipse cx="160.8" cy="508.4" rx="4.7" ry="2.7" transform="rotate(-64.9 160.8 508.4)"/><ellipse cx="166.8" cy="511.1" rx="4.7" ry="2.7" transform="rotate(-16.9 166.8 511.1)"/><ellipse cx="164.3" cy="504.8" rx="4.7" ry="2.7" transform="rotate(-64.9 164.3 504.8)"/><ellipse cx="170.3" cy="507.5" rx="4.7" ry="2.7" transform="rotate(-16.9 170.3 507.5)"/><ellipse cx="167.7" cy="501.5" rx="4.7" ry="2.7" transform="rotate(-64.9 167.7 501.5)"/><ellipse cx="173.8" cy="504.2" rx="4.7" ry="2.7" transform="rotate(-16.9 173.8 504.2)"/><ellipse cx="171.2" cy="498.3" rx="4.7" ry="2.7" transform="rotate(-64.9 171.2 498.3)"/><ellipse cx="177.2" cy="501" rx="4.7" ry="2.7" transform="rotate(-16.9 177.2 501)"/><ellipse cx="174.7" cy="495.3" rx="4.7" ry="2.7" transform="rotate(-64.9 174.7 495.3)"/><ellipse cx="180.7" cy="498" rx="4.7" ry="2.7" transform="rotate(-16.9 180.7 498)"/><ellipse cx="178.1" cy="492.5" rx="4.7" ry="2.7" transform="rotate(-64.9 178.1 492.5)"/><ellipse cx="184.2" cy="495.2" rx="4.7" ry="2.7" transform="rotate(-16.9 184.2 495.2)"/><ellipse cx="181.6" cy="489.9" rx="4.7" ry="2.7" transform="rotate(-64.9 181.6 489.9)"/><ellipse cx="187.6" cy="492.6" rx="4.7" ry="2.7" transform="rotate(-16.9 187.6 492.6)"/><ellipse cx="185.7" cy="491.4" rx="4.6" ry="2.4" transform="rotate(-40.9 185.7 491.4)"/></g>
<path d="M259.9 596.3C244.7 599.6 242 604.4 238.4 612.9" fill="none" stroke="#8C6A3E" stroke-width="1.6" stroke-linecap="round"/>
<path d="M245.5 603.5q2.8 5 5.4 9.9" fill="none" stroke="#8C6A3E" stroke-width="0.8" stroke-linecap="round"/>
<path d="M260.9 596.3C249.9 598.8 244.7 604.9 245.6 614" fill="none" stroke="#8C6A3E" stroke-width="1.4" stroke-linecap="round"/>
<path d="M250.4 604q2 5 1.5 11.5" fill="none" stroke="#8C6A3E" stroke-width="0.8" stroke-linecap="round"/>
<path d="M262 596.3C255.4 598 251.8 610.1 251.6 624.4" fill="none" stroke="#8C6A3E" stroke-width="1.2" stroke-linecap="round"/>
<path d="M255.7 608.7q1.2 5 -5.6 14.1" fill="none" stroke="#8C6A3E" stroke-width="0.8" stroke-linecap="round"/>
<path d="M262.8 596.3C259.6 597.4 257.8 610.2 257.9 624.5" fill="none" stroke="#8C6A3E" stroke-width="1.7" stroke-linecap="round"/>
<path d="M259.7 608.7q0.6 5 -5.8 9" fill="none" stroke="#8C6A3E" stroke-width="0.8" stroke-linecap="round"/>
<path d="M264.1 596.3C266 597.2 266.5 612.2 266.3 628.6" fill="none" stroke="#8C6A3E" stroke-width="1.2" stroke-linecap="round"/>
<path d="M265.9 610.6q-0.4 5 -5.4 12.4" fill="none" stroke="#8C6A3E" stroke-width="0.8" stroke-linecap="round"/>
<path d="M265.1 596.3C271 597.9 272.6 609 273.9 622.3" fill="none" stroke="#8C6A3E" stroke-width="1.8" stroke-linecap="round"/>
<path d="M270.7 607.7q-1.1 5 2.2 9.4" fill="none" stroke="#8C6A3E" stroke-width="0.8" stroke-linecap="round"/>
<path d="M266.1 596.3C276.2 598.7 278.3 604.4 278.8 612.9" fill="none" stroke="#8C6A3E" stroke-width="1.6" stroke-linecap="round"/>
<path d="M275.7 603.5q-1.9 5 -3.9 9.9" fill="none" stroke="#8C6A3E" stroke-width="0.8" stroke-linecap="round"/>
<path d="M267 596.3C280.8 599.4 286.3 604.2 287.9 612.7" fill="none" stroke="#8C6A3E" stroke-width="1.7" stroke-linecap="round"/>
<path d="M280.1 603.4q-2.6 5 -1.3 13.5" fill="none" stroke="#8C6A3E" stroke-width="0.8" stroke-linecap="round"/>
<path d="M255.6 598.3Q263.6 594.3 271.6 598.3" fill="none" stroke="#8C6A3E" stroke-width="2.2" stroke-linecap="round"/>
<path d="M284.1 596.3C270.9 599.2 270.4 605.9 268.1 615.9" fill="none" stroke="#8C6A3E" stroke-width="1.2" stroke-linecap="round"/>
<path d="M271.6 604.8q2.4 5 -0.6 12.4" fill="none" stroke="#8C6A3E" stroke-width="0.8" stroke-linecap="round"/>
<path d="M285.1 596.3C276 598.5 275 607 272.8 618.1" fill="none" stroke="#8C6A3E" stroke-width="1.7" stroke-linecap="round"/>
<path d="M276.4 605.8q1.7 5 5.3 11.2" fill="none" stroke="#8C6A3E" stroke-width="0.8" stroke-linecap="round"/>
<path d="M285.9 596.3C280.2 597.9 279.9 609.5 278.7 623.2" fill="none" stroke="#8C6A3E" stroke-width="1.6" stroke-linecap="round"/>
<path d="M280.5 608.1q1.1 5 2.6 9.5" fill="none" stroke="#8C6A3E" stroke-width="0.8" stroke-linecap="round"/>
<path d="M287.1 596.3C286.1 597 285.5 613.6 285.4 631.3" fill="none" stroke="#8C6A3E" stroke-width="1.7" stroke-linecap="round"/>
<path d="M286.1 611.8q0.2 5 -2.2 14.4" fill="none" stroke="#8C6A3E" stroke-width="0.8" stroke-linecap="round"/>
<path d="M288 596.3C291 597.3 291.9 607.9 292 619.9" fill="none" stroke="#8C6A3E" stroke-width="1.5" stroke-linecap="round"/>
<path d="M290.8 606.7q-0.5 5 3.2 11.4" fill="none" stroke="#8C6A3E" stroke-width="0.8" stroke-linecap="round"/>
<path d="M288.5 596.3C293.4 597.7 295.1 606.9 296.1 618" fill="none" stroke="#8C6A3E" stroke-width="1.2" stroke-linecap="round"/>
<path d="M293.1 605.8q-0.9 5 -2 13.5" fill="none" stroke="#8C6A3E" stroke-width="0.8" stroke-linecap="round"/>
<path d="M289.6 596.3C298.8 598.5 299.4 606.7 301 617.6" fill="none" stroke="#8C6A3E" stroke-width="1.7" stroke-linecap="round"/>
<path d="M298.3 605.6q-1.7 5 2.3 14.6" fill="none" stroke="#8C6A3E" stroke-width="0.8" stroke-linecap="round"/>
<path d="M290.8 596.3C305 599.4 315.1 602.8 314.1 609.7" fill="none" stroke="#8C6A3E" stroke-width="1.5" stroke-linecap="round"/>
<path d="M304.3 602.1q-2.6 5 -2.5 13.1" fill="none" stroke="#8C6A3E" stroke-width="0.8" stroke-linecap="round"/>
<path d="M279.3 598.3Q287.3 594.3 295.3 598.3" fill="none" stroke="#8C6A3E" stroke-width="2.2" stroke-linecap="round"/>
<path d="M305.6 596.3C291.7 599.4 287.1 605.2 285.8 614.5" fill="none" stroke="#8C6A3E" stroke-width="1.3" stroke-linecap="round"/>
<path d="M292.4 604.2q2.6 5 -1.4 13.9" fill="none" stroke="#8C6A3E" stroke-width="0.8" stroke-linecap="round"/>
<path d="M306.8 596.3C297.6 598.5 297.8 608 295.2 620.2" fill="none" stroke="#8C6A3E" stroke-width="1.5" stroke-linecap="round"/>
<path d="M298.1 606.8q1.7 5 0.9 9.4" fill="none" stroke="#8C6A3E" stroke-width="0.8" stroke-linecap="round"/>
<path d="M307.5 596.3C301.5 597.9 298 608.8 299 621.8" fill="none" stroke="#8C6A3E" stroke-width="1.8" stroke-linecap="round"/>
<path d="M301.8 607.5q1.1 5 0.2 10.8" fill="none" stroke="#8C6A3E" stroke-width="0.8" stroke-linecap="round"/>
<path d="M308.7 596.3C307.4 597 307.1 610.8 306.9 625.8" fill="none" stroke="#8C6A3E" stroke-width="1.2" stroke-linecap="round"/>
<path d="M307.5 609.3q0.2 5 0.5 10.9" fill="none" stroke="#8C6A3E" stroke-width="0.8" stroke-linecap="round"/>
<path d="M309.8 596.3C313 597.4 314.9 608.7 315 621.5" fill="none" stroke="#8C6A3E" stroke-width="1.2" stroke-linecap="round"/>
<path d="M312.9 607.4q-0.6 5 -0.8 13.7" fill="none" stroke="#8C6A3E" stroke-width="0.8" stroke-linecap="round"/>
<path d="M310.8 596.3C317.9 598.1 321.4 607 320.8 618.1" fill="none" stroke="#8C6A3E" stroke-width="1.6" stroke-linecap="round"/>
<path d="M317.5 605.8q-1.3 5 5.1 8.9" fill="none" stroke="#8C6A3E" stroke-width="0.8" stroke-linecap="round"/>
<path d="M311.7 596.3C322.6 598.8 325.3 604.7 324.5 613.5" fill="none" stroke="#8C6A3E" stroke-width="1.6" stroke-linecap="round"/>
<path d="M322 603.8q-2 5 -2.1 10.5" fill="none" stroke="#8C6A3E" stroke-width="0.8" stroke-linecap="round"/>
<path d="M312.6 596.3C327.1 599.5 332.1 604.4 330.3 613.1" fill="none" stroke="#8C6A3E" stroke-width="1.5" stroke-linecap="round"/>
<path d="M326.4 603.6q-2.7 5 -3 9.4" fill="none" stroke="#8C6A3E" stroke-width="0.8" stroke-linecap="round"/>
<path d="M301 598.3Q309 594.3 317 598.3" fill="none" stroke="#8C6A3E" stroke-width="2.2" stroke-linecap="round"/>
<path d="M335.5 596.3C321.4 599.4 316.2 603.6 316 611.5" fill="none" stroke="#8C6A3E" stroke-width="1.5" stroke-linecap="round"/>
<path d="M322.1 602.9q2.6 5 -4.1 9.4" fill="none" stroke="#8C6A3E" stroke-width="0.8" stroke-linecap="round"/>
<path d="M336.6 596.3C326.8 598.6 324.3 606.4 322 617" fill="none" stroke="#8C6A3E" stroke-width="1.6" stroke-linecap="round"/>
<path d="M327.3 605.3q1.8 5 4.3 9.6" fill="none" stroke="#8C6A3E" stroke-width="0.8" stroke-linecap="round"/>
<path d="M337.7 596.3C332.2 597.8 328.9 610.4 329.1 625.1" fill="none" stroke="#8C6A3E" stroke-width="1.3" stroke-linecap="round"/>
<path d="M332.5 609q1 5 5.1 9.5" fill="none" stroke="#8C6A3E" stroke-width="0.8" stroke-linecap="round"/>
<path d="M338.8 596.3C338.1 596.9 337.6 609.2 337.6 622.5" fill="none" stroke="#8C6A3E" stroke-width="1.6" stroke-linecap="round"/>
<path d="M338.1 607.8q0.1 5 -2.9 8.7" fill="none" stroke="#8C6A3E" stroke-width="0.8" stroke-linecap="round"/>
<path d="M339.7 596.3C342.6 597.3 344.1 611.4 343.7 627.1" fill="none" stroke="#8C6A3E" stroke-width="1.4" stroke-linecap="round"/>
<path d="M342.5 609.9q-0.5 5 2.2 8.1" fill="none" stroke="#8C6A3E" stroke-width="0.8" stroke-linecap="round"/>
<path d="M340.3 596.3C345.6 597.8 346.8 610.6 348.3 625.3" fill="none" stroke="#8C6A3E" stroke-width="1.2" stroke-linecap="round"/>
<path d="M345.4 609.1q-1 5 0.1 13.3" fill="none" stroke="#8C6A3E" stroke-width="0.8" stroke-linecap="round"/>
<path d="M341.5 596.3C351.7 598.7 358.4 605 356.8 614.2" fill="none" stroke="#8C6A3E" stroke-width="1.2" stroke-linecap="round"/>
<path d="M351.2 604.1q-1.9 5 -5.6 11.9" fill="none" stroke="#8C6A3E" stroke-width="0.8" stroke-linecap="round"/>
<path d="M342.5 596.3C356.8 599.4 364.5 602.9 363.2 610" fill="none" stroke="#8C6A3E" stroke-width="1.3" stroke-linecap="round"/>
<path d="M356.1 602.2q-2.6 5 4.1 14.9" fill="none" stroke="#8C6A3E" stroke-width="0.8" stroke-linecap="round"/>
<path d="M331 598.3Q339 594.3 347 598.3" fill="none" stroke="#8C6A3E" stroke-width="2.2" stroke-linecap="round"/>
<path d="M337.4 595.8Q335.9 507.3 342.1 461.8Q342.7 507.4 340.8 595.8Z" fill="#43AE82" stroke="#1E3A2C" stroke-width="0.7" stroke-linejoin="round"/>
<path d="M335.4 595.8Q331.6 525.8 318.3 488.3Q342.4 523.9 340.9 595.8Z" fill="#43AE82" stroke="#1E3A2C" stroke-width="0.7" stroke-linejoin="round"/>
<path d="M337.8 595.8Q337.1 502.4 359.7 455.2Q345 503.6 341.8 595.8Z" fill="#2E8A58" stroke="#1E3A2C" stroke-width="0.7" stroke-linejoin="round"/>
<path d="M336.7 595.8Q334.4 525 334.9 488.3Q342.8 524.7 340.9 595.8Z" fill="#62A944" stroke="#1E3A2C" stroke-width="0.7" stroke-linejoin="round"/>
<path d="M337.4 595.8Q336.6 508.4 374.1 465.6Q348.2 511.4 343.4 595.8Z" fill="#43AE82" stroke="#1E3A2C" stroke-width="0.7" stroke-linejoin="round"/>
<path d="M338.2 595.8Q338 551 363.8 529.7Q344.8 553.4 341.8 595.8Z" fill="#2E8A58" stroke="#1E3A2C" stroke-width="0.7" stroke-linejoin="round"/>
<path d="M337.1 595.8Q336.3 522.8 375.2 488.3Q348.8 526.9 343.7 595.8Z" fill="#62A944" stroke="#1E3A2C" stroke-width="0.7" stroke-linejoin="round"/>
<path d="M337.1 595.8Q335.4 532.6 349 500.8Q344.6 533.6 341.7 595.8Z" fill="#2B7350" stroke="#1E3A2C" stroke-width="0.7" stroke-linejoin="round"/>
<path d="M306.9 595.8Q304.9 513.9 312.1 471.8Q313.7 514.1 311.3 595.8Z" fill="#43AE82" stroke="#1E3A2C" stroke-width="0.7" stroke-linejoin="round"/>
<path d="M307.9 595.8Q307.5 506.8 340 462.5Q316.5 508.8 312.5 595.8Z" fill="#2E8A58" stroke="#1E3A2C" stroke-width="0.7" stroke-linejoin="round"/>
<path d="M306 595.8Q302.8 525.4 296.6 488.3Q312.8 524.3 311 595.8Z" fill="#2E8A58" stroke="#1E3A2C" stroke-width="0.7" stroke-linejoin="round"/>
<path d="M307.9 595.8Q307.9 521.7 350.3 486.3Q318.2 525.4 313.4 595.8Z" fill="#2E8A58" stroke="#1E3A2C" stroke-width="0.7" stroke-linejoin="round"/>
<path d="M307.6 595.8Q306.4 543.6 317.3 517.3Q313.2 544.3 311 595.8Z" fill="#2E8A58" stroke="#1E3A2C" stroke-width="0.7" stroke-linejoin="round"/>
<path d="M307.6 595.8Q307.8 528.2 357.6 497.6Q319.7 533.8 314.2 595.8Z" fill="#62A944" stroke="#1E3A2C" stroke-width="0.7" stroke-linejoin="round"/>
<path d="M285.2 595.8Q283.1 490 289.3 435.6Q291.9 490.1 289.6 595.8Z" fill="#2E8A58" stroke="#1E3A2C" stroke-width="0.7" stroke-linejoin="round"/>
<path d="M281.2 595.8Q274.7 498.2 253.2 444.9Q293.3 494.2 290.7 595.8Z" fill="#2E8A58" stroke="#1E3A2C" stroke-width="0.7" stroke-linejoin="round"/>
<path d="M284.7 595.8Q281.2 496.8 253.2 444.9Q286.8 495.6 287.1 595.8Z" fill="#43AE82"/>
<path d="M285.8 595.8Q284.9 483.9 313.1 427.3Q294.8 485.3 290.8 595.8Z" fill="#4E9F5B" stroke="#1E3A2C" stroke-width="0.7" stroke-linejoin="round"/>
<path d="M285.6 595.8Q283.8 530.5 286.3 496.8Q290.6 530.4 289 595.8Z" fill="#2E8A58" stroke="#1E3A2C" stroke-width="0.7" stroke-linejoin="round"/>
<path d="M285.3 595.8Q284.3 490.9 330.7 439.8Q298.8 494.8 292.8 595.8Z" fill="#43AE82" stroke="#1E3A2C" stroke-width="0.7" stroke-linejoin="round"/>
<path d="M283.9 595.8Q280.2 535.7 259.4 502.8Q289 533.1 288.5 595.8Z" fill="#62A944" stroke="#1E3A2C" stroke-width="0.7" stroke-linejoin="round"/>
<path d="M285.5 595.8Q284.8 508.9 331.7 467.6Q298.5 513.5 292.7 595.8Z" fill="#62A944" stroke="#1E3A2C" stroke-width="0.7" stroke-linejoin="round"/>
<path d="M285.1 595.8Q283.1 516.3 295.3 475.8Q293.1 516.9 290.1 595.8Z" fill="#2B7350" stroke="#1E3A2C" stroke-width="0.7" stroke-linejoin="round"/>
<path d="M258.9 595.8Q253.9 525.5 227.4 486.3Q266.3 521.6 265.4 595.8Z" fill="#2E8A58" stroke="#1E3A2C" stroke-width="0.7" stroke-linejoin="round"/>
<path d="M261.3 595.8Q258.2 524.1 227.4 486.3Q261.9 522.9 263 595.8Z" fill="#43AE82"/>
<path d="M260.3 595.8Q256.8 543.3 234.7 514.2Q264.8 540.6 264.5 595.8Z" fill="#62A944" stroke="#1E3A2C" stroke-width="0.7" stroke-linejoin="round"/>
<path d="M261.4 595.8Q259 517.6 253.3 476.9Q266.2 517 265 595.8Z" fill="#2E8A58" stroke="#1E3A2C" stroke-width="0.7" stroke-linejoin="round"/>
<path d="M261.9 595.8Q260.2 520.7 265.6 482.1Q267.4 520.8 265.5 595.8Z" fill="#43AE82" stroke="#1E3A2C" stroke-width="0.7" stroke-linejoin="round"/>
<path d="M262.7 595.8Q262 563.8 275 548.3Q267.4 565.1 265.5 595.8Z" fill="#2E8A58" stroke="#1E3A2C" stroke-width="0.7" stroke-linejoin="round"/>
<path d="M261.2 595.8Q258.8 536.5 260.6 505.8Q267.8 536.3 265.7 595.8Z" fill="#2B7350" stroke="#1E3A2C" stroke-width="0.7" stroke-linejoin="round"/>
</g>
<g id="plants_bottom">
<path d="M620.2 955.7C607.1 958.6 608 962.6 604.3 970" fill="none" stroke="#8C6A3E" stroke-width="1.5" stroke-linecap="round"/>
<path d="M607.7 961.9q2.4 5 3.2 10.3" fill="none" stroke="#8C6A3E" stroke-width="0.8" stroke-linecap="round"/>
<path d="M620.9 955.7C610.6 958.1 607.4 965.2 606.3 975.2" fill="none" stroke="#8C6A3E" stroke-width="1.1" stroke-linecap="round"/>
<path d="M611.1 964.2q1.9 5 2.4 13.9" fill="none" stroke="#8C6A3E" stroke-width="0.8" stroke-linecap="round"/>
<path d="M621.7 955.7C614.8 957.5 612.2 968.3 612.1 981.3" fill="none" stroke="#8C6A3E" stroke-width="1.3" stroke-linecap="round"/>
<path d="M615.1 967q1.3 5 -4 11.6" fill="none" stroke="#8C6A3E" stroke-width="0.8" stroke-linecap="round"/>
<path d="M622.6 955.7C619.3 956.8 617.8 970.7 617.3 986.1" fill="none" stroke="#8C6A3E" stroke-width="1.7" stroke-linecap="round"/>
<path d="M619.5 969.1q0.6 5 1.6 10.8" fill="none" stroke="#8C6A3E" stroke-width="0.8" stroke-linecap="round"/>
<path d="M624 955.7C626.3 956.6 626.7 972.2 627.2 989.2" fill="none" stroke="#8C6A3E" stroke-width="1.3" stroke-linecap="round"/>
<path d="M626.1 970.5q-0.4 5 4.9 13.2" fill="none" stroke="#8C6A3E" stroke-width="0.8" stroke-linecap="round"/>
<path d="M625.1 955.7C631.9 957.5 634 966.9 635.8 978.6" fill="none" stroke="#8C6A3E" stroke-width="1.8" stroke-linecap="round"/>
<path d="M631.6 965.7q-1.3 5 2.3 13.4" fill="none" stroke="#8C6A3E" stroke-width="0.8" stroke-linecap="round"/>
<path d="M626.1 955.7C636.9 958.2 642.5 965.9 640.9 976.7" fill="none" stroke="#8C6A3E" stroke-width="1.4" stroke-linecap="round"/>
<path d="M636.4 964.9q-2 5 -0.4 8.1" fill="none" stroke="#8C6A3E" stroke-width="0.8" stroke-linecap="round"/>
<path d="M626.8 955.7C640.7 958.8 648.3 963.9 647.4 972.6" fill="none" stroke="#8C6A3E" stroke-width="1.8" stroke-linecap="round"/>
<path d="M640 963.1q-2.6 5 2 10.4" fill="none" stroke="#8C6A3E" stroke-width="0.8" stroke-linecap="round"/>
<path d="M615.4 957.7Q623.4 953.7 631.4 957.7" fill="none" stroke="#8C6A3E" stroke-width="2.2" stroke-linecap="round"/>
<path d="M642.7 955.7C628.9 958.7 622.8 963.7 622.7 972.2" fill="none" stroke="#8C6A3E" stroke-width="1.8" stroke-linecap="round"/>
<path d="M629.6 962.8q2.5 5 1.7 12.9" fill="none" stroke="#8C6A3E" stroke-width="0.8" stroke-linecap="round"/>
<path d="M643.8 955.7C634.3 957.9 629.2 964.1 628.1 973" fill="none" stroke="#8C6A3E" stroke-width="1.7" stroke-linecap="round"/>
<path d="M634.8 963.2q1.7 5 -2.9 10.8" fill="none" stroke="#8C6A3E" stroke-width="0.8" stroke-linecap="round"/>
<path d="M644.3 955.7C637 957.5 634.1 966.5 635.1 977.9" fill="none" stroke="#8C6A3E" stroke-width="1.3" stroke-linecap="round"/>
<path d="M637.4 965.4q1.3 5 4.9 11.9" fill="none" stroke="#8C6A3E" stroke-width="0.8" stroke-linecap="round"/>
<path d="M645.6 955.7C643.6 956.6 642.9 970.2 642.3 985.2" fill="none" stroke="#8C6A3E" stroke-width="1.6" stroke-linecap="round"/>
<path d="M643.7 968.7q0.4 5 3.7 8.5" fill="none" stroke="#8C6A3E" stroke-width="0.8" stroke-linecap="round"/>
<path d="M646.7 955.7C648.9 956.6 649.6 967.4 650.2 979.6" fill="none" stroke="#8C6A3E" stroke-width="1.2" stroke-linecap="round"/>
<path d="M648.8 966.2q-0.4 5 -0.3 9.2" fill="none" stroke="#8C6A3E" stroke-width="0.8" stroke-linecap="round"/>
<path d="M647.6 955.7C653.7 957.3 654.8 965.7 656.5 976.3" fill="none" stroke="#8C6A3E" stroke-width="1.4" stroke-linecap="round"/>
<path d="M653.4 964.7q-1.1 5 0.3 12.2" fill="none" stroke="#8C6A3E" stroke-width="0.8" stroke-linecap="round"/>
<path d="M648.5 955.7C658.3 958 660.5 966.3 661.3 977.4" fill="none" stroke="#8C6A3E" stroke-width="1.3" stroke-linecap="round"/>
<path d="M657.8 965.2q-1.8 5 2.6 10.1" fill="none" stroke="#8C6A3E" stroke-width="0.8" stroke-linecap="round"/>
<path d="M649.3 955.7C662.2 958.6 667.4 962.6 666 970" fill="none" stroke="#8C6A3E" stroke-width="1.7" stroke-linecap="round"/>
<path d="M661.6 961.9q-2.4 5 -1.3 14.3" fill="none" stroke="#8C6A3E" stroke-width="0.8" stroke-linecap="round"/>
<path d="M638.1 957.7Q646.1 953.7 654.1 957.7" fill="none" stroke="#8C6A3E" stroke-width="2.2" stroke-linecap="round"/>
<path d="M667.5 955.7C653.9 958.7 655.1 965.2 651.3 975.1" fill="none" stroke="#8C6A3E" stroke-width="1.2" stroke-linecap="round"/>
<path d="M654.6 964.2q2.5 5 4.9 11" fill="none" stroke="#8C6A3E" stroke-width="0.8" stroke-linecap="round"/>
<path d="M668.3 955.7C658.1 958.1 652.2 964.6 651.4 973.9" fill="none" stroke="#8C6A3E" stroke-width="1.8" stroke-linecap="round"/>
<path d="M658.6 963.6q1.9 5 2.7 11.3" fill="none" stroke="#8C6A3E" stroke-width="0.8" stroke-linecap="round"/>
<path d="M669.6 955.7C664.8 957.1 661.4 968.8 662 982.5" fill="none" stroke="#8C6A3E" stroke-width="1.6" stroke-linecap="round"/>
<path d="M665 967.5q0.9 5 -0.5 9.4" fill="none" stroke="#8C6A3E" stroke-width="0.8" stroke-linecap="round"/>
<path d="M670 955.7C666.8 956.8 665.6 967.4 665.4 979.5" fill="none" stroke="#8C6A3E" stroke-width="1.6" stroke-linecap="round"/>
<path d="M667 966.1q0.6 5 -0.5 9.8" fill="none" stroke="#8C6A3E" stroke-width="0.8" stroke-linecap="round"/>
<path d="M671.4 955.7C673.6 956.6 674.3 971.2 674.4 987.1" fill="none" stroke="#8C6A3E" stroke-width="1.8" stroke-linecap="round"/>
<path d="M673.5 969.6q-0.4 5 5.4 13.1" fill="none" stroke="#8C6A3E" stroke-width="0.8" stroke-linecap="round"/>
<path d="M672.1 955.7C677.5 957.2 677.7 969.8 678.8 984.4" fill="none" stroke="#8C6A3E" stroke-width="1.6" stroke-linecap="round"/>
<path d="M677.3 968.4q-1 5 -1.7 9.9" fill="none" stroke="#8C6A3E" stroke-width="0.8" stroke-linecap="round"/>
<path d="M673.4 955.7C684.1 958.2 687.5 965.6 688.8 976" fill="none" stroke="#8C6A3E" stroke-width="1.7" stroke-linecap="round"/>
<path d="M683.5 964.6q-2 5 -3.7 9.7" fill="none" stroke="#8C6A3E" stroke-width="0.8" stroke-linecap="round"/>
<path d="M674.6 955.7C690.1 959.1 702.3 963.7 699.7 972.2" fill="none" stroke="#8C6A3E" stroke-width="1.2" stroke-linecap="round"/>
<path d="M689.3 962.8q-2.9 5 -2.7 11" fill="none" stroke="#8C6A3E" stroke-width="0.8" stroke-linecap="round"/>
<path d="M662.8 957.7Q670.8 953.7 678.8 957.7" fill="none" stroke="#8C6A3E" stroke-width="2.2" stroke-linecap="round"/>
<path d="M668.7 955.2Q666.7 873.3 673.9 831.2Q675.5 873.5 673.1 955.2Z" fill="#43AE82" stroke="#1E3A2C" stroke-width="0.7" stroke-linejoin="round"/>
<path d="M669.7 955.2Q669.3 866.2 701.8 821.9Q678.3 868.2 674.3 955.2Z" fill="#2E8A58" stroke="#1E3A2C" stroke-width="0.7" stroke-linejoin="round"/>
<path d="M667.8 955.2Q664.6 884.8 658.4 847.7Q674.6 883.7 672.8 955.2Z" fill="#2E8A58" stroke="#1E3A2C" stroke-width="0.7" stroke-linejoin="round"/>
<path d="M669.7 955.2Q669.7 881.1 712.1 845.7Q680 884.8 675.2 955.2Z" fill="#2E8A58" stroke="#1E3A2C" stroke-width="0.7" stroke-linejoin="round"/>
<path d="M669.4 955.2Q668.2 903 679.1 876.7Q675 903.7 672.8 955.2Z" fill="#2E8A58" stroke="#1E3A2C" stroke-width="0.7" stroke-linejoin="round"/>
<path d="M669.4 955.2Q669.6 887.6 719.4 857Q681.5 893.2 676 955.2Z" fill="#62A944" stroke="#1E3A2C" stroke-width="0.7" stroke-linejoin="round"/>
<path d="M670.2 955.2Q670.4 916.6 698.5 898.9Q676.6 919.5 673.6 955.2Z" fill="#2E8A58" stroke="#1E3A2C" stroke-width="0.7" stroke-linejoin="round"/>
<path d="M644 955.2Q641.9 849.4 648.1 795Q650.7 849.5 648.4 955.2Z" fill="#2E8A58" stroke="#1E3A2C" stroke-width="0.7" stroke-linejoin="round"/>
<path d="M640 955.2Q633.5 857.6 612 804.3Q652.1 853.6 649.5 955.2Z" fill="#2E8A58" stroke="#1E3A2C" stroke-width="0.7" stroke-linejoin="round"/>
<path d="M643.5 955.2Q640 856.2 612 804.3Q645.6 855 645.9 955.2Z" fill="#43AE82"/>
<path d="M644.6 955.2Q643.7 843.3 671.9 786.7Q653.6 844.7 649.6 955.2Z" fill="#4E9F5B" stroke="#1E3A2C" stroke-width="0.7" stroke-linejoin="round"/>
<path d="M644.4 955.2Q642.6 889.9 645.1 856.2Q649.4 889.8 647.8 955.2Z" fill="#2E8A58" stroke="#1E3A2C" stroke-width="0.7" stroke-linejoin="round"/>
<path d="M644.1 955.2Q643.1 850.3 689.5 799.2Q657.6 854.2 651.6 955.2Z" fill="#43AE82" stroke="#1E3A2C" stroke-width="0.7" stroke-linejoin="round"/>
<path d="M642.7 955.2Q639 895.1 618.2 862.2Q647.8 892.5 647.3 955.2Z" fill="#62A944" stroke="#1E3A2C" stroke-width="0.7" stroke-linejoin="round"/>
<path d="M644.3 955.2Q643.6 868.3 690.5 827Q657.3 872.9 651.5 955.2Z" fill="#62A944" stroke="#1E3A2C" stroke-width="0.7" stroke-linejoin="round"/>
<path d="M643.9 955.2Q641.9 875.7 654.1 835.2Q651.9 876.3 648.9 955.2Z" fill="#2B7350" stroke="#1E3A2C" stroke-width="0.7" stroke-linejoin="round"/>
<path d="M618.7 955.2Q613.7 884.9 587.2 845.7Q626.1 881 625.2 955.2Z" fill="#2E8A58" stroke="#1E3A2C" stroke-width="0.7" stroke-linejoin="round"/>
<path d="M621.1 955.2Q618 883.5 587.2 845.7Q621.7 882.3 622.8 955.2Z" fill="#43AE82"/>
<path d="M620.1 955.2Q616.6 902.7 594.5 873.6Q624.6 900 624.3 955.2Z" fill="#62A944" stroke="#1E3A2C" stroke-width="0.7" stroke-linejoin="round"/>
<path d="M621.2 955.2Q618.8 877 613.1 836.3Q626 876.4 624.8 955.2Z" fill="#2E8A58" stroke="#1E3A2C" stroke-width="0.7" stroke-linejoin="round"/>
<path d="M621.7 955.2Q620 880.1 625.4 841.5Q627.2 880.2 625.3 955.2Z" fill="#43AE82" stroke="#1E3A2C" stroke-width="0.7" stroke-linejoin="round"/>
<path d="M622.5 955.2Q621.8 923.2 634.8 907.7Q627.2 924.5 625.3 955.2Z" fill="#2E8A58" stroke="#1E3A2C" stroke-width="0.7" stroke-linejoin="round"/>
<path d="M621 955.2Q618.6 895.9 620.4 865.2Q627.6 895.7 625.5 955.2Z" fill="#2B7350" stroke="#1E3A2C" stroke-width="0.7" stroke-linejoin="round"/>
<path d="M1030.9 955.7C1017 958.8 1011.9 963.7 1014 972.1" fill="none" stroke="#8C6A3E" stroke-width="1.2" stroke-linecap="round"/>
<path d="M1017.7 962.8q2.6 5 2.1 11.9" fill="none" stroke="#8C6A3E" stroke-width="0.8" stroke-linecap="round"/>
<path d="M1031.9 955.7C1022.1 958 1017.8 965.6 1018.6 976" fill="none" stroke="#8C6A3E" stroke-width="1.4" stroke-linecap="round"/>
<path d="M1022.6 964.6q1.8 5 2.9 13.9" fill="none" stroke="#8C6A3E" stroke-width="0.8" stroke-linecap="round"/>
<path d="M1032.5 955.7C1025.3 957.5 1024.6 968.4 1023.7 981.6" fill="none" stroke="#8C6A3E" stroke-width="1.7" stroke-linecap="round"/>
<path d="M1025.7 967.1q1.3 5 -3.4 11" fill="none" stroke="#8C6A3E" stroke-width="0.8" stroke-linecap="round"/>
<path d="M1033.6 955.7C1031 956.7 1029.8 968.8 1029.5 982.5" fill="none" stroke="#8C6A3E" stroke-width="1.8" stroke-linecap="round"/>
<path d="M1031.1 967.5q0.5 5 -2.1 11.8" fill="none" stroke="#8C6A3E" stroke-width="0.8" stroke-linecap="round"/>
<path d="M1035 955.7C1037.6 956.7 1039.3 969.1 1039.3 983.1" fill="none" stroke="#8C6A3E" stroke-width="1.2" stroke-linecap="round"/>
<path d="M1037.5 967.7q-0.5 5 4.5 8.5" fill="none" stroke="#8C6A3E" stroke-width="0.8" stroke-linecap="round"/>
<path d="M1035.5 955.7C1040.5 957.1 1042 968.2 1042.8 981.2" fill="none" stroke="#8C6A3E" stroke-width="1.3" stroke-linecap="round"/>
<path d="M1040.3 966.9q-0.9 5 3.3 8.5" fill="none" stroke="#8C6A3E" stroke-width="0.8" stroke-linecap="round"/>
<path d="M1036.6 955.7C1046 957.9 1051 964.3 1050.7 973.5" fill="none" stroke="#8C6A3E" stroke-width="1.6" stroke-linecap="round"/>
<path d="M1045.6 963.4q-1.7 5 2.3 10" fill="none" stroke="#8C6A3E" stroke-width="0.8" stroke-linecap="round"/>
<path d="M1037.6 955.7C1050.9 958.7 1055.5 964.5 1055.4 973.9" fill="none" stroke="#8C6A3E" stroke-width="1.2" stroke-linecap="round"/>
<path d="M1050.2 963.6q-2.5 5 2.5 12" fill="none" stroke="#8C6A3E" stroke-width="0.8" stroke-linecap="round"/>
<path d="M1026.3 957.7Q1034.3 953.7 1042.3 957.7" fill="none" stroke="#8C6A3E" stroke-width="2.2" stroke-linecap="round"/>
<path d="M1051.8 955.7C1038.6 958.6 1030.7 965.2 1030.3 975.2" fill="none" stroke="#8C6A3E" stroke-width="1.7" stroke-linecap="round"/>
<path d="M1039.3 964.2q2.4 5 -2.3 10.2" fill="none" stroke="#8C6A3E" stroke-width="0.8" stroke-linecap="round"/>
<path d="M1052.4 955.7C1042 958.1 1034.8 966.8 1035.4 978.4" fill="none" stroke="#8C6A3E" stroke-width="1.4" stroke-linecap="round"/>
<path d="M1042.5 965.6q1.9 5 -1.6 10.5" fill="none" stroke="#8C6A3E" stroke-width="0.8" stroke-linecap="round"/>
<path d="M1053.4 955.7C1047.1 957.4 1045.4 966.2 1044.8 977.2" fill="none" stroke="#8C6A3E" stroke-width="1.7" stroke-linecap="round"/>
<path d="M1047.4 965.1q1.2 5 0.5 13.9" fill="none" stroke="#8C6A3E" stroke-width="0.8" stroke-linecap="round"/>
<path d="M1054.5 955.7C1052.7 956.5 1052.7 971.3 1052.2 987.4" fill="none" stroke="#8C6A3E" stroke-width="1.3" stroke-linecap="round"/>
<path d="M1052.8 969.7q0.3 5 -5.7 11.6" fill="none" stroke="#8C6A3E" stroke-width="0.8" stroke-linecap="round"/>
<path d="M1055.5 955.7C1057.7 956.6 1058.3 972.2 1058.6 989.2" fill="none" stroke="#8C6A3E" stroke-width="1.7" stroke-linecap="round"/>
<path d="M1057.6 970.5q-0.4 5 -5.2 11.8" fill="none" stroke="#8C6A3E" stroke-width="0.8" stroke-linecap="round"/>
<path d="M1056.7 955.7C1063.5 957.5 1063.7 965.5 1065 975.8" fill="none" stroke="#8C6A3E" stroke-width="1.8" stroke-linecap="round"/>
<path d="M1063.2 964.5q-1.3 5 -5 12.4" fill="none" stroke="#8C6A3E" stroke-width="0.8" stroke-linecap="round"/>
<path d="M1057.3 955.7C1066.5 957.9 1072.1 966.6 1071.5 978" fill="none" stroke="#8C6A3E" stroke-width="1.3" stroke-linecap="round"/>
<path d="M1066 965.4q-1.7 5 3.2 11.7" fill="none" stroke="#8C6A3E" stroke-width="0.8" stroke-linecap="round"/>
<path d="M1058.7 955.7C1073.6 959 1074.6 962.5 1079 969.9" fill="none" stroke="#8C6A3E" stroke-width="1.6" stroke-linecap="round"/>
<path d="M1072.8 961.8q-2.8 5 -0.1 11.8" fill="none" stroke="#8C6A3E" stroke-width="0.8" stroke-linecap="round"/>
<path d="M1047 957.7Q1055 953.7 1063 957.7" fill="none" stroke="#8C6A3E" stroke-width="2.2" stroke-linecap="round"/>
<path d="M1075.4 955.7C1061.8 958.7 1055 964.9 1054.7 974.6" fill="none" stroke="#8C6A3E" stroke-width="1.7" stroke-linecap="round"/>
<path d="M1062.5 963.9q2.5 5 2 14" fill="none" stroke="#8C6A3E" stroke-width="0.8" stroke-linecap="round"/>
<path d="M1076.5 955.7C1067.1 957.9 1064.4 967.4 1061.7 979.6" fill="none" stroke="#8C6A3E" stroke-width="1.6" stroke-linecap="round"/>
<path d="M1067.6 966.2q1.7 5 0.3 13" fill="none" stroke="#8C6A3E" stroke-width="0.8" stroke-linecap="round"/>
<path d="M1077.5 955.7C1072.2 957.2 1069.6 967.7 1070.2 980.3" fill="none" stroke="#8C6A3E" stroke-width="1.7" stroke-linecap="round"/>
<path d="M1072.5 966.5q1 5 5.9 10.6" fill="none" stroke="#8C6A3E" stroke-width="0.8" stroke-linecap="round"/>
<path d="M1078.1 955.7C1075.2 956.7 1074.3 969 1074.4 982.8" fill="none" stroke="#8C6A3E" stroke-width="1.8" stroke-linecap="round"/>
<path d="M1075.3 967.6q0.5 5 -5.3 10.2" fill="none" stroke="#8C6A3E" stroke-width="0.8" stroke-linecap="round"/>
<path d="M1079.1 955.7C1080.1 956.4 1080.7 971.9 1080.6 988.5" fill="none" stroke="#8C6A3E" stroke-width="1.2" stroke-linecap="round"/>
<path d="M1080 970.2q-0.2 5 -0.5 12.1" fill="none" stroke="#8C6A3E" stroke-width="0.8" stroke-linecap="round"/>
<path d="M1080.6 955.7C1087.7 957.5 1089.7 965.5 1089 975.7" fill="none" stroke="#8C6A3E" stroke-width="1.3" stroke-linecap="round"/>
<path d="M1087.4 964.4q-1.3 5 -3.2 13" fill="none" stroke="#8C6A3E" stroke-width="0.8" stroke-linecap="round"/>
<path d="M1081.4 955.7C1091.8 958.1 1095.1 964.3 1094.7 973.3" fill="none" stroke="#8C6A3E" stroke-width="1.2" stroke-linecap="round"/>
<path d="M1091.2 963.4q-1.9 5 3.1 10.2" fill="none" stroke="#8C6A3E" stroke-width="0.8" stroke-linecap="round"/>
<path d="M1082.3 955.7C1096.7 958.8 1105.7 963.2 1104.9 971.3" fill="none" stroke="#8C6A3E" stroke-width="1.8" stroke-linecap="round"/>
<path d="M1096 962.4q-2.6 5 5 10.4" fill="none" stroke="#8C6A3E" stroke-width="0.8" stroke-linecap="round"/>
<path d="M1070.8 957.7Q1078.8 953.7 1086.8 957.7" fill="none" stroke="#8C6A3E" stroke-width="2.2" stroke-linecap="round"/>
<path d="M1034.6 955.2Q1032.7 893 1033.9 860.8Q1039.7 892.8 1038.1 955.2Z" fill="#2E8A58" stroke="#1E3A2C" stroke-width="0.7" stroke-linejoin="round"/>
<path d="M1035 955.2Q1033.3 882.5 1035.7 845Q1040 882.4 1038.3 955.2Z" fill="#43AE82" stroke="#1E3A2C" stroke-width="0.7" stroke-linejoin="round"/>
<path d="M1030.1 955.2Q1028.9 900.7 1035.5 872.8Q1034.8 900.9 1033.1 955.2Z" fill="#43AE82" stroke="#1E3A2C" stroke-width="0.7" stroke-linejoin="round"/>
<path d="M1030.9 955.2Q1028.5 861.6 1018.9 812.8Q1035 860.9 1034.2 955.2Z" fill="#3F8F4A" stroke="#1E3A2C" stroke-width="0.7" stroke-linejoin="round"/>
<path d="M1036.4 955.2Q1034.9 897.3 1011.4 867.5" fill="none" stroke="#23302a" stroke-width="0.8" stroke-linecap="round"/>
<path d="M1035.2 955.2Q1036 850.1 1048.7 796" fill="none" stroke="#23302a" stroke-width="0.8" stroke-linecap="round"/>
<path d="M1032 955.2Q1029.5 894.6 991.4 863.4" fill="none" stroke="#23302a" stroke-width="0.8" stroke-linecap="round"/>
<path d="M1032.6 955.2Q1034.4 894.7 1062 863.5" fill="none" stroke="#23302a" stroke-width="1.3" stroke-linecap="round"/>
<path d="M1031.9 955.2Q1031.8 882.8 1030.1 845.6" fill="none" stroke="#23302a" stroke-width="1.3" stroke-linecap="round"/>
<path d="M1037.4 955.2Q1037.7 900.4 1041 872.1" fill="none" stroke="#23302a" stroke-width="0.9" stroke-linecap="round"/>
<path d="M1031.5 955.2Q1030.6 851.8 1017.3 798.5" fill="none" stroke="#23302a" stroke-width="0.7" stroke-linecap="round"/>
<path d="M1030.3 955.2Q1029.3 878.3 1013 838.7" fill="none" stroke="#23302a" stroke-width="1.1" stroke-linecap="round"/>
<path d="M1036.8 955.2Q1035.6 860.5 1015.6 811.7" fill="none" stroke="#23302a" stroke-width="1" stroke-linecap="round"/>
<path d="M1035.9 955.2Q1034.6 870.9 1014 827.5" fill="none" stroke="#23302a" stroke-width="0.7" stroke-linecap="round"/>
<path d="M1036.3 955.2Q1037.8 843.1 1061.5 785.3" fill="none" stroke="#23302a" stroke-width="1.2" stroke-linecap="round"/>
<path d="M1052.5 955.2Q1049.4 896.1 1026.1 864.3Q1055.3 894.3 1055.6 955.2Z" fill="#2E8A58" stroke="#1E3A2C" stroke-width="0.7" stroke-linejoin="round"/>
<path d="M1054.1 955.2Q1052.2 891.3 1053.1 858.3Q1059.2 891.1 1057.6 955.2Z" fill="#2E8A58" stroke="#1E3A2C" stroke-width="0.7" stroke-linejoin="round"/>
<path d="M1056.7 955.2Q1056.1 901.7 1071.9 874.9Q1061.7 902.7 1059.5 955.2Z" fill="#62A944" stroke="#1E3A2C" stroke-width="0.7" stroke-linejoin="round"/>
<path d="M1053.2 955.2Q1053.2 868 1080.3 824Q1059.3 869.2 1056.3 955.2Z" fill="#62A944" stroke="#1E3A2C" stroke-width="0.7" stroke-linejoin="round"/>
<path d="M1058.6 955.2Q1060 843.9 1082.9 786.6" fill="none" stroke="#23302a" stroke-width="0.8" stroke-linecap="round"/>
<path d="M1058.3 955.2Q1057.6 878.8 1045.5 839.4" fill="none" stroke="#23302a" stroke-width="0.9" stroke-linecap="round"/>
<path d="M1053.5 955.2Q1055.5 874.8 1087.5 833.4" fill="none" stroke="#23302a" stroke-width="0.9" stroke-linecap="round"/>
<path d="M1052.2 955.2Q1051.1 846.4 1033.8 790.4" fill="none" stroke="#23302a" stroke-width="1.1" stroke-linecap="round"/>
<path d="M1051.4 955.2Q1053.9 851.5 1092.8 798.1" fill="none" stroke="#23302a" stroke-width="1.3" stroke-linecap="round"/>
<path d="M1052.9 955.2Q1053.3 866.3 1059.4 820.5" fill="none" stroke="#23302a" stroke-width="1.1" stroke-linecap="round"/>
<path d="M1054.4 955.2Q1055.9 869.3 1080.5 825.1" fill="none" stroke="#23302a" stroke-width="0.7" stroke-linecap="round"/>
<path d="M1054.9 955.2Q1056.9 843.7 1087 786.2" fill="none" stroke="#23302a" stroke-width="1.2" stroke-linecap="round"/>
<path d="M1058.6 955.2Q1056.9 886.1 1030.4 850.5" fill="none" stroke="#23302a" stroke-width="1.1" stroke-linecap="round"/>
<path d="M1054.5 955.2Q1055.9 848.2 1077.7 793" fill="none" stroke="#23302a" stroke-width="0.8" stroke-linecap="round"/>
<path d="M1054.6 955.2Q1056.3 859.6 1081.8 810.3" fill="none" stroke="#23302a" stroke-width="1.3" stroke-linecap="round"/>
<path d="M1077 955.2Q1077.7 903.4 1110.6 878.4Q1083.2 905.7 1080 955.2Z" fill="#2E8A58" stroke="#1E3A2C" stroke-width="0.7" stroke-linejoin="round"/>
<path d="M1076.8 955.2Q1075 869.8 1077.5 825.8Q1082 869.7 1080.3 955.2Z" fill="#2E8A58" stroke="#1E3A2C" stroke-width="0.7" stroke-linejoin="round"/>
<path d="M1080.4 955.2Q1078.8 905.2 1081.2 879.3Q1085.1 905.1 1083.6 955.2Z" fill="#3F8F4A" stroke="#1E3A2C" stroke-width="0.7" stroke-linejoin="round"/>
<path d="M1077.2 955.2Q1077.8 864.4 1111.6 818.7Q1083.6 865.8 1080.3 955.2Z" fill="#2B7350" stroke="#1E3A2C" stroke-width="0.7" stroke-linejoin="round"/>
<path d="M1081.1 955.2Q1083.2 863.6 1116.3 816.4" fill="none" stroke="#23302a" stroke-width="1.2" stroke-linecap="round"/>
<path d="M1080.9 955.2Q1082.3 882 1103.8 844.3" fill="none" stroke="#23302a" stroke-width="0.9" stroke-linecap="round"/>
<path d="M1078.7 955.2Q1080.2 858.7 1104.5 809" fill="none" stroke="#23302a" stroke-width="1.2" stroke-linecap="round"/>
<path d="M1082.4 955.2Q1083.6 859.5 1103.5 810.2" fill="none" stroke="#23302a" stroke-width="1.1" stroke-linecap="round"/>
<path d="M1079.2 955.2Q1080.2 842.4 1095.6 784.3" fill="none" stroke="#23302a" stroke-width="0.9" stroke-linecap="round"/>
<path d="M1081.3 955.2Q1082.6 869.8 1102.2 825.8" fill="none" stroke="#23302a" stroke-width="1.1" stroke-linecap="round"/>
<path d="M1080 955.2Q1081.8 862.8 1111.2 815.2" fill="none" stroke="#23302a" stroke-width="1.1" stroke-linecap="round"/>
<path d="M1081.5 955.2Q1083.5 862.9 1113.4 815.4" fill="none" stroke="#23302a" stroke-width="1.2" stroke-linecap="round"/>
<path d="M1082.5 955.2Q1083.7 901 1103.4 873" fill="none" stroke="#23302a" stroke-width="1" stroke-linecap="round"/>
<path d="M1081.5 955.2Q1082.1 851.8 1091.9 798.5" fill="none" stroke="#23302a" stroke-width="1.3" stroke-linecap="round"/>
<path d="M1080.6 955.2Q1081 883.7 1088.2 846.8" fill="none" stroke="#23302a" stroke-width="1.1" stroke-linecap="round"/>
<path d="M1031.9 955.2Q1029.9 910.9 1024 880.5Q1037 909.9 1036.7 955.2Z" fill="#4C9A46" stroke="#1E3A2C" stroke-width="0.7" stroke-linejoin="round"/>
<path d="M1052.6 955.2Q1050.7 906.6 1046.5 873.5Q1057.9 905.8 1057.4 955.2Z" fill="#4C9A46" stroke="#1E3A2C" stroke-width="0.7" stroke-linejoin="round"/>
<path d="M1052.6 955.2Q1051 888.3 1050.5 843.5Q1058.2 888 1057.4 955.2Z" fill="#4C9A46" stroke="#1E3A2C" stroke-width="0.7" stroke-linejoin="round"/>
<path d="M1052.6 955.2Q1051.9 885.6 1061.2 839.5Q1059.1 886 1057.4 955.2Z" fill="#4C9A46" stroke="#1E3A2C" stroke-width="0.7" stroke-linejoin="round"/>
<path d="M1076.4 955.2Q1074.9 898.3 1074.5 860.1Q1082.1 898 1081.2 955.2Z" fill="#4C9A46" stroke="#1E3A2C" stroke-width="0.7" stroke-linejoin="round"/>
<path d="M1076.4 955.2Q1076 920.5 1088.1 898.4Q1083.1 921.7 1081.2 955.2Z" fill="#4C9A46" stroke="#1E3A2C" stroke-width="0.7" stroke-linejoin="round"/>
<path d="M1024 880.5Q1004.1 859.7 984.3 838.9" fill="none" stroke="#23302a" stroke-width="0.7" stroke-linecap="round"/>
<g fill="#F8A922" stroke="#A9650F" stroke-width="0.75"><ellipse cx="1019.4" cy="879.5" rx="4.7" ry="2.7" transform="rotate(-160 1019.4 879.5)"/><ellipse cx="1021.5" cy="873.3" rx="4.7" ry="2.7" transform="rotate(-112 1021.5 873.3)"/><ellipse cx="1015.4" cy="875" rx="4.7" ry="2.7" transform="rotate(-160 1015.4 875)"/><ellipse cx="1017.6" cy="868.7" rx="4.7" ry="2.7" transform="rotate(-112 1017.6 868.7)"/><ellipse cx="1011.4" cy="870.7" rx="4.7" ry="2.7" transform="rotate(-160 1011.4 870.7)"/><ellipse cx="1013.6" cy="864.4" rx="4.7" ry="2.7" transform="rotate(-112 1013.6 864.4)"/><ellipse cx="1007.5" cy="866.6" rx="4.7" ry="2.7" transform="rotate(-160 1007.5 866.6)"/><ellipse cx="1009.6" cy="860.4" rx="4.7" ry="2.7" transform="rotate(-112 1009.6 860.4)"/><ellipse cx="1003.5" cy="862.8" rx="4.7" ry="2.7" transform="rotate(-160 1003.5 862.8)"/><ellipse cx="1005.6" cy="856.5" rx="4.7" ry="2.7" transform="rotate(-112 1005.6 856.5)"/><ellipse cx="999.5" cy="859.2" rx="4.7" ry="2.7" transform="rotate(-160 999.5 859.2)"/><ellipse cx="1001.7" cy="853" rx="4.7" ry="2.7" transform="rotate(-112 1001.7 853)"/><ellipse cx="995.5" cy="855.9" rx="4.7" ry="2.7" transform="rotate(-160 995.5 855.9)"/><ellipse cx="997.7" cy="849.6" rx="4.7" ry="2.7" transform="rotate(-112 997.7 849.6)"/><ellipse cx="994.5" cy="852" rx="4.6" ry="2.4" transform="rotate(-136 994.5 852)"/></g>
<path d="M1046.5 873.5Q1023.7 853.4 1000.9 833.2" fill="none" stroke="#23302a" stroke-width="0.7" stroke-linecap="round"/>
<g fill="#F8A922" stroke="#A9650F" stroke-width="0.75"><ellipse cx="1041.6" cy="872.7" rx="4.7" ry="2.7" transform="rotate(-164.8 1041.6 872.7)"/><ellipse cx="1043.3" cy="866.3" rx="4.7" ry="2.7" transform="rotate(-116.8 1043.3 866.3)"/><ellipse cx="1037.1" cy="868.2" rx="4.7" ry="2.7" transform="rotate(-164.8 1037.1 868.2)"/><ellipse cx="1038.7" cy="861.8" rx="4.7" ry="2.7" transform="rotate(-116.8 1038.7 861.8)"/><ellipse cx="1032.5" cy="864" rx="4.7" ry="2.7" transform="rotate(-164.8 1032.5 864)"/><ellipse cx="1034.2" cy="857.6" rx="4.7" ry="2.7" transform="rotate(-116.8 1034.2 857.6)"/><ellipse cx="1028" cy="860.1" rx="4.7" ry="2.7" transform="rotate(-164.8 1028 860.1)"/><ellipse cx="1029.6" cy="853.6" rx="4.7" ry="2.7" transform="rotate(-116.8 1029.6 853.6)"/><ellipse cx="1023.4" cy="856.4" rx="4.7" ry="2.7" transform="rotate(-164.8 1023.4 856.4)"/><ellipse cx="1025" cy="850" rx="4.7" ry="2.7" transform="rotate(-116.8 1025 850)"/><ellipse cx="1018.8" cy="852.9" rx="4.7" ry="2.7" transform="rotate(-164.8 1018.8 852.9)"/><ellipse cx="1020.5" cy="846.5" rx="4.7" ry="2.7" transform="rotate(-116.8 1020.5 846.5)"/><ellipse cx="1014.3" cy="849.7" rx="4.7" ry="2.7" transform="rotate(-164.8 1014.3 849.7)"/><ellipse cx="1015.9" cy="843.3" rx="4.7" ry="2.7" transform="rotate(-116.8 1015.9 843.3)"/><ellipse cx="1012.4" cy="845.7" rx="4.6" ry="2.4" transform="rotate(-140.8 1012.4 845.7)"/></g>
<path d="M1050.5 843.5Q1029.5 825.3 1008.5 807.1" fill="none" stroke="#23302a" stroke-width="0.7" stroke-linecap="round"/>
<g fill="#F8A922" stroke="#A9650F" stroke-width="0.75"><ellipse cx="1045.9" cy="843" rx="4.7" ry="2.7" transform="rotate(-165.3 1045.9 843)"/><ellipse cx="1047.5" cy="836.6" rx="4.7" ry="2.7" transform="rotate(-117.3 1047.5 836.6)"/><ellipse cx="1041.7" cy="839" rx="4.7" ry="2.7" transform="rotate(-165.3 1041.7 839)"/><ellipse cx="1043.3" cy="832.6" rx="4.7" ry="2.7" transform="rotate(-117.3 1043.3 832.6)"/><ellipse cx="1037.5" cy="835.2" rx="4.7" ry="2.7" transform="rotate(-165.3 1037.5 835.2)"/><ellipse cx="1039.1" cy="828.8" rx="4.7" ry="2.7" transform="rotate(-117.3 1039.1 828.8)"/><ellipse cx="1033.3" cy="831.6" rx="4.7" ry="2.7" transform="rotate(-165.3 1033.3 831.6)"/><ellipse cx="1034.9" cy="825.2" rx="4.7" ry="2.7" transform="rotate(-117.3 1034.9 825.2)"/><ellipse cx="1029.1" cy="828.3" rx="4.7" ry="2.7" transform="rotate(-165.3 1029.1 828.3)"/><ellipse cx="1030.7" cy="821.8" rx="4.7" ry="2.7" transform="rotate(-117.3 1030.7 821.8)"/><ellipse cx="1024.9" cy="825.2" rx="4.7" ry="2.7" transform="rotate(-165.3 1024.9 825.2)"/><ellipse cx="1026.5" cy="818.7" rx="4.7" ry="2.7" transform="rotate(-117.3 1026.5 818.7)"/><ellipse cx="1020.7" cy="822.3" rx="4.7" ry="2.7" transform="rotate(-165.3 1020.7 822.3)"/><ellipse cx="1022.3" cy="815.9" rx="4.7" ry="2.7" transform="rotate(-117.3 1022.3 815.9)"/><ellipse cx="1019.4" cy="818.6" rx="4.6" ry="2.4" transform="rotate(-141.3 1019.4 818.6)"/></g>
<path d="M1061.2 839.5Q1079.2 814.8 1097.2 790.1" fill="none" stroke="#23302a" stroke-width="0.7" stroke-linecap="round"/>
<g fill="#F8A922" stroke="#A9650F" stroke-width="0.75"><ellipse cx="1061.2" cy="834" rx="4.7" ry="2.7" transform="rotate(-75.7 1061.2 834)"/><ellipse cx="1067.6" cy="835.5" rx="4.7" ry="2.7" transform="rotate(-27.7 1067.6 835.5)"/><ellipse cx="1064.8" cy="828.7" rx="4.7" ry="2.7" transform="rotate(-75.7 1064.8 828.7)"/><ellipse cx="1071.2" cy="830.2" rx="4.7" ry="2.7" transform="rotate(-27.7 1071.2 830.2)"/><ellipse cx="1068.4" cy="823.6" rx="4.7" ry="2.7" transform="rotate(-75.7 1068.4 823.6)"/><ellipse cx="1074.8" cy="825.2" rx="4.7" ry="2.7" transform="rotate(-27.7 1074.8 825.2)"/><ellipse cx="1072" cy="818.9" rx="4.7" ry="2.7" transform="rotate(-75.7 1072 818.9)"/><ellipse cx="1078.4" cy="820.4" rx="4.7" ry="2.7" transform="rotate(-27.7 1078.4 820.4)"/><ellipse cx="1075.6" cy="814.3" rx="4.7" ry="2.7" transform="rotate(-75.7 1075.6 814.3)"/><ellipse cx="1082" cy="815.8" rx="4.7" ry="2.7" transform="rotate(-27.7 1082 815.8)"/><ellipse cx="1079.2" cy="810" rx="4.7" ry="2.7" transform="rotate(-75.7 1079.2 810)"/><ellipse cx="1085.6" cy="811.5" rx="4.7" ry="2.7" transform="rotate(-27.7 1085.6 811.5)"/><ellipse cx="1082.8" cy="806" rx="4.7" ry="2.7" transform="rotate(-75.7 1082.8 806)"/><ellipse cx="1089.2" cy="807.5" rx="4.7" ry="2.7" transform="rotate(-27.7 1089.2 807.5)"/><ellipse cx="1088.1" cy="805.4" rx="4.6" ry="2.4" transform="rotate(-51.7 1088.1 805.4)"/></g>
<path d="M1074.5 860.1Q1094.3 842.6 1114.1 825.1" fill="none" stroke="#23302a" stroke-width="0.7" stroke-linecap="round"/>
<g fill="#F8A922" stroke="#A9650F" stroke-width="0.75"><ellipse cx="1075.1" cy="855.1" rx="4.7" ry="2.7" transform="rotate(-63.2 1075.1 855.1)"/><ellipse cx="1081.1" cy="858" rx="4.7" ry="2.7" transform="rotate(-15.2 1081.1 858)"/><ellipse cx="1079.1" cy="851.2" rx="4.7" ry="2.7" transform="rotate(-63.2 1079.1 851.2)"/><ellipse cx="1085" cy="854.1" rx="4.7" ry="2.7" transform="rotate(-15.2 1085 854.1)"/><ellipse cx="1083" cy="847.6" rx="4.7" ry="2.7" transform="rotate(-63.2 1083 847.6)"/><ellipse cx="1089" cy="850.5" rx="4.7" ry="2.7" transform="rotate(-15.2 1089 850.5)"/><ellipse cx="1087" cy="844.2" rx="4.7" ry="2.7" transform="rotate(-63.2 1087 844.2)"/><ellipse cx="1093" cy="847" rx="4.7" ry="2.7" transform="rotate(-15.2 1093 847)"/><ellipse cx="1090.9" cy="840.9" rx="4.7" ry="2.7" transform="rotate(-63.2 1090.9 840.9)"/><ellipse cx="1096.9" cy="843.8" rx="4.7" ry="2.7" transform="rotate(-15.2 1096.9 843.8)"/><ellipse cx="1094.9" cy="838" rx="4.7" ry="2.7" transform="rotate(-63.2 1094.9 838)"/><ellipse cx="1100.9" cy="840.8" rx="4.7" ry="2.7" transform="rotate(-15.2 1100.9 840.8)"/><ellipse cx="1098.9" cy="835.2" rx="4.7" ry="2.7" transform="rotate(-63.2 1098.9 835.2)"/><ellipse cx="1104.8" cy="838.1" rx="4.7" ry="2.7" transform="rotate(-15.2 1104.8 838.1)"/><ellipse cx="1103.6" cy="836.4" rx="4.6" ry="2.4" transform="rotate(-39.2 1103.6 836.4)"/></g>
<path d="M1088.1 898.4Q1103.6 874.2 1119.1 849.9" fill="none" stroke="#23302a" stroke-width="0.7" stroke-linecap="round"/>
<g fill="#F8A922" stroke="#A9650F" stroke-width="0.75"><ellipse cx="1087.6" cy="893.2" rx="4.7" ry="2.7" transform="rotate(-79.3 1087.6 893.2)"/><ellipse cx="1094.1" cy="894.3" rx="4.7" ry="2.7" transform="rotate(-31.3 1094.1 894.3)"/><ellipse cx="1090.7" cy="888" rx="4.7" ry="2.7" transform="rotate(-79.3 1090.7 888)"/><ellipse cx="1097.2" cy="889.1" rx="4.7" ry="2.7" transform="rotate(-31.3 1097.2 889.1)"/><ellipse cx="1093.8" cy="883.1" rx="4.7" ry="2.7" transform="rotate(-79.3 1093.8 883.1)"/><ellipse cx="1100.3" cy="884.2" rx="4.7" ry="2.7" transform="rotate(-31.3 1100.3 884.2)"/><ellipse cx="1096.9" cy="878.4" rx="4.7" ry="2.7" transform="rotate(-79.3 1096.9 878.4)"/><ellipse cx="1103.4" cy="879.5" rx="4.7" ry="2.7" transform="rotate(-31.3 1103.4 879.5)"/><ellipse cx="1100" cy="873.9" rx="4.7" ry="2.7" transform="rotate(-79.3 1100 873.9)"/><ellipse cx="1106.5" cy="875" rx="4.7" ry="2.7" transform="rotate(-31.3 1106.5 875)"/><ellipse cx="1103.1" cy="869.7" rx="4.7" ry="2.7" transform="rotate(-79.3 1103.1 869.7)"/><ellipse cx="1109.6" cy="870.8" rx="4.7" ry="2.7" transform="rotate(-31.3 1109.6 870.8)"/><ellipse cx="1106.2" cy="865.7" rx="4.7" ry="2.7" transform="rotate(-79.3 1106.2 865.7)"/><ellipse cx="1112.7" cy="866.8" rx="4.7" ry="2.7" transform="rotate(-31.3 1112.7 866.8)"/><ellipse cx="1111.1" cy="865.2" rx="4.6" ry="2.4" transform="rotate(-55.3 1111.1 865.2)"/></g>
<path d="M217 956C208 959 200 976 181.6 981.5" fill="none" stroke="#8C6A3E" stroke-width="2.8" stroke-linecap="round" stroke-linejoin="round"/>
<path d="M218 958C212 976 198 986 185.5 1004" fill="none" stroke="#8C6A3E" stroke-width="2.6" stroke-linecap="round" stroke-linejoin="round"/>
<path d="M219.5 957C213 985 209 1010 205.5 1041" fill="none" stroke="#8C6A3E" stroke-width="3.4" stroke-linecap="round" stroke-linejoin="round"/>
<path d="M209 1000C201 1012 197 1018 196 1027" fill="none" stroke="#8C6A3E" stroke-width="1.8" stroke-linecap="round" stroke-linejoin="round"/>
<path d="M221 958C216 975 220 985 217.5 998" fill="none" stroke="#8C6A3E" stroke-width="1.8" stroke-linecap="round" stroke-linejoin="round"/>
<path d="M223 958C224 975 229 990 233.5 1004" fill="none" stroke="#8C6A3E" stroke-width="2.2" stroke-linecap="round" stroke-linejoin="round"/>
<path d="M224 956C238 966 244 990 271 1027.5" fill="none" stroke="#8C6A3E" stroke-width="3.2" stroke-linecap="round" stroke-linejoin="round"/>
<path d="M240.5 992C241 1005 241 1012 240.5 1022" fill="none" stroke="#8C6A3E" stroke-width="1.8" stroke-linecap="round" stroke-linejoin="round"/>
<path d="M214 956.5Q220.6 953 227 956.5" fill="none" stroke="#8C6A3E" stroke-width="4" stroke-linecap="round" stroke-linejoin="round"/>
<path d="M221.2 954 L221.2 948.4 L221.2 943 L221 937.8 L220.7 932.7 L220.3 927.9 L219.8 923.2 L219.1 918.6 L218.4 914.2 L217.3 909.9 L216.2 905.8 L215 901.9 L213.7 898 L212.3 894.2 L210.7 890.6 L209 887.1 L207.2 883.7 L205.4 880.4 L203.4 877.2 L201.4 874 L199.3 870.9 L197.1 867.8 L194.9 864.8 L192.6 861.8 L190.2 858.8 L187.8 855.9 L184 854 L184 854 L185 858.1 L187.2 861.2 L189.4 864.2 L191.4 867.3 L193.4 870.3 L195.4 873.4 L197.2 876.6 L199 879.7 L200.7 882.9 L202.3 886.2 L203.8 889.6 L205.2 893 L206.5 896.5 L207.9 900.1 L209.1 903.8 L210.3 907.5 L211.3 911.5 L212.3 915.5 L213.3 919.7 L214.2 924 L215 928.6 L215.7 933.3 L216.3 938.1 L216.8 943.2 L217.2 948.5 L217.4 954 Z" fill="#2F3B35"/>
<path d="M220.4 954 L220.3 948.4 L220.1 943 L219.8 937.9 L219.3 932.9 L218.7 928.1 L218.1 923.4 L217.3 918.9 L216.4 914.6 L215.4 910.4 L214.3 906.4 L213.1 902.5 L211.8 898.7 L210.4 895 L209 891.4 L207.3 887.9 L205.5 884.6 L203.6 881.3 L201.7 878.2 L199.7 875 L197.6 872 L195.4 869 L193.2 866 L191 863 L188.7 860 L186.4 857 L184 854 L184 854 L186.4 857 L188.7 860 L191 863 L193.2 866 L195.2 869.2 L197.1 872.3 L198.9 875.5 L200.7 878.7 L202.4 882 L204 885.4 L205.5 888.8 L206.9 892.3 L208.4 895.8 L209.8 899.4 L211 903.1 L212.2 907 L213.3 911 L214.3 915.1 L215.1 919.4 L215.9 923.8 L216.6 928.4 L217.1 933.1 L217.6 938 L217.9 943.2 L218.1 948.5 L218.2 954 Z" fill="#3EB577"/>
<path d="M224.2 954 L224.2 947.8 L224.5 941.8 L224.9 935.8 L225.5 930 L226.2 924.2 L227 918.6 L228 913 L229.1 907.6 L230.2 902.3 L231.5 897.1 L232.9 891.9 L234.4 887 L236 882.1 L237.7 877.3 L239.5 872.7 L241.4 868.2 L243.4 863.8 L245.6 859.5 L247.8 855.4 L250.2 851.4 L252.7 847.6 L255.3 843.9 L258 840.4 L260.8 837 L263.6 833.7 L265.5 829.5 L265.5 829.5 L261.1 831.3 L257.9 834.4 L254.9 837.8 L251.9 841.3 L249 845 L246.3 848.9 L243.6 852.9 L241.1 857 L238.7 861.3 L236.4 865.8 L234.2 870.4 L232.1 875.1 L230.2 880 L228.5 885.1 L226.9 890.2 L225.5 895.5 L224.2 900.9 L223 906.4 L222.1 912.1 L221.4 917.8 L220.9 923.6 L220.5 929.6 L220.2 935.6 L220.1 941.6 L220.2 947.8 L220.4 954 Z" fill="#2F3B35"/>
<path d="M223.4 954 L223.3 947.8 L223.4 941.7 L223.7 935.7 L224.1 929.8 L224.6 924 L225.3 918.3 L226.2 912.7 L227.2 907.2 L228.3 901.8 L229.5 896.6 L230.9 891.4 L232.5 886.4 L234.1 881.4 L235.9 876.6 L237.7 871.9 L239.7 867.3 L241.7 862.9 L243.8 858.6 L246.1 854.4 L248.5 850.3 L251 846.4 L253.6 842.6 L256.4 839.1 L259.3 835.7 L262.4 832.5 L265.5 829.5 L265.5 829.5 L262.4 832.5 L259.3 835.7 L256.4 839.1 L253.6 842.6 L250.7 846.2 L248 850 L245.3 853.9 L242.8 858 L240.4 862.2 L238.1 866.6 L235.9 871.1 L233.9 875.8 L232.1 880.7 L230.4 885.7 L228.8 890.8 L227.4 896 L226.1 901.4 L225 906.8 L224 912.4 L223.1 918 L222.4 923.8 L221.9 929.7 L221.5 935.6 L221.2 941.7 L221.1 947.8 L221.2 954 Z" fill="#3EB577"/>
<path d="M222.7 953.9 L222.5 947.7 L222.5 941.5 L222.5 935.4 L222.6 929.3 L222.8 923.3 L223.1 917.3 L223.5 911.3 L223.9 905.3 L224.2 899.4 L224.7 893.5 L225.2 887.6 L225.8 881.7 L226.5 875.9 L227.2 870 L227.9 864.2 L228.8 858.4 L229.7 852.6 L230.7 846.8 L231.9 841 L233.1 835.2 L234.4 829.4 L235.7 823.6 L237.2 817.9 L238.8 812.1 L240.4 806.3 L240.6 800 L240.6 800 L237.1 805.2 L235.1 811 L233.3 816.8 L231.6 822.5 L230 828.3 L228.5 834.1 L227.1 839.9 L225.7 845.8 L224.5 851.6 L223.3 857.4 L222.2 863.3 L221.3 869.2 L220.3 875.1 L219.6 881.1 L219 887 L218.5 893 L218 899 L217.7 905 L217.5 911.1 L217.5 917.1 L217.5 923.2 L217.6 929.3 L217.8 935.5 L218.1 941.7 L218.5 947.9 L218.9 954.1 Z" fill="#2F3B35"/>
<path d="M221.9 953.9 L221.6 947.7 L221.4 941.6 L221.3 935.4 L221.2 929.3 L221.3 923.3 L221.4 917.2 L221.6 911.2 L221.9 905.2 L222.2 899.3 L222.7 893.3 L223.2 887.4 L223.8 881.5 L224.5 875.6 L225.3 869.8 L226.1 863.9 L226.9 858.1 L227.8 852.2 L228.8 846.4 L229.9 840.6 L231.1 834.7 L232.3 828.9 L233.7 823.1 L235.3 817.3 L237 811.5 L238.7 805.8 L240.6 800 L240.6 800 L238.7 805.8 L237 811.5 L235.3 817.3 L233.7 823.1 L232 828.8 L230.5 834.6 L229 840.4 L227.7 846.2 L226.4 852 L225.2 857.8 L224.1 863.6 L223.1 869.5 L222.3 875.4 L221.6 881.3 L221 887.2 L220.5 893.1 L220 899.1 L219.7 905.1 L219.4 911.1 L219.2 917.2 L219.1 923.2 L219 929.3 L219.1 935.5 L219.2 941.6 L219.4 947.8 L219.7 954.1 Z" fill="#3EB577"/>
</g>
<g id="labels">
<text x="110.5" y="662" font-size="16" text-anchor="middle" fill="#111" textLength="111" lengthAdjust="spacingAndGlyphs">Predicting yield</text>
<text x="110.5" y="681.7" font-size="16" text-anchor="middle" fill="#111" textLength="125" lengthAdjust="spacingAndGlyphs">increase by 9.4%</text>
<text x="304.5" y="662" font-size="16" text-anchor="middle" fill="#111" textLength="131" lengthAdjust="spacingAndGlyphs">Closing the gap of</text>
<text x="306.3" y="681.6" font-size="16" text-anchor="middle" fill="#111" textLength="103" lengthAdjust="spacingAndGlyphs">plant numbers</text>
<text x="125.6" y="785.7" font-size="20.2" fill="#111" textLength="192.6" lengthAdjust="spacingAndGlyphs">Tillering was inhibited</text>
<text x="527.3" y="785.7" font-size="20.2" fill="#111" textLength="271" lengthAdjust="spacingAndGlyphs">The plant numbers decreased</text>
<text x="903" y="785.7" font-size="20.2" fill="#111" textLength="291.3" lengthAdjust="spacingAndGlyphs">The panicle numbers decreased</text>
<text x="678.7" y="1050.6" font-size="34.7" fill="#111" textLength="383" lengthAdjust="spacingAndGlyphs">Saline-sodic paddy fields</text>
</g>
<path d="M328.9 763.4H335.1V786.5H340.7L332 797L323.3 786.5H328.9Z" fill="#1DA4E6"/>
<path d="M808 762.7H814.2V785.7H819.8L811.1 796.2L802.4 785.7H808Z" fill="#1DA4E6"/>
<path d="M1203.3 764.4H1209.5V787.3H1215.1L1206.4 797.8L1197.7 787.3H1203.3Z" fill="#1DA4E6"/>
<polygon points="490.7,888 459.1,864.2 459.1,876 385.9,876 385.9,900 459.1,900 459.1,911.8" fill="#FFC000" stroke="#BF9000" stroke-width="1.9" stroke-linejoin="miter"/>
<polygon points="915.5,881.7 884.1,858.2 884.1,869.7 811,869.7 811,893.7 884.1,893.7 884.1,905.2" fill="#FFC000" stroke="#BF9000" stroke-width="1.9" stroke-linejoin="miter"/>
<g id="ions" stroke-width="2">
<ellipse cx="86.5" cy="991.3" rx="23.6" ry="20.6" fill="#FFC000" stroke="#C09311"/>
<text x="86.5" y="996.8" font-size="17.6" text-anchor="middle" stroke="none" fill="#111">Na<tspan font-size="11.5" dy="-5.5">+</tspan></text>
<ellipse cx="67.1" cy="1063" rx="23.6" ry="20.8" fill="#FFC000" stroke="#C09311"/>
<text x="67.1" y="1068.5" font-size="17.6" text-anchor="middle" stroke="none" fill="#111">Na<tspan font-size="11.5" dy="-5.5">+</tspan></text>
<ellipse cx="176.5" cy="1056.8" rx="23.8" ry="20.8" fill="#FFC000" stroke="#C09311"/>
<text x="176.5" y="1062.3" font-size="17.6" text-anchor="middle" stroke="none" fill="#111">Na<tspan font-size="11.5" dy="-5.5">+</tspan></text>
<ellipse cx="279.1" cy="1057.4" rx="23.6" ry="20.6" fill="#00A8EC" stroke="#C09311"/>
<text x="279.1" y="1061.9" font-size="13.4" text-anchor="middle" stroke="none" fill="#0b1a2a">HCO<tspan font-size="9" dy="3">3</tspan><tspan font-size="9" dy="-8.5">-</tspan></text>
<ellipse cx="377.8" cy="1031.6" rx="23.2" ry="20.3" fill="#00A8EC" stroke="#C09311"/>
<text x="377.8" y="1036.1" font-size="13.4" text-anchor="middle" stroke="none" fill="#0b1a2a">HCO<tspan font-size="9" dy="3">3</tspan><tspan font-size="9" dy="-8.5">-</tspan></text>
<ellipse cx="354.7" cy="1072.2" rx="23.3" ry="20.5" fill="#9DC3E6" stroke="#C09311"/>
<text x="354.7" y="1077" font-size="13.4" text-anchor="middle" stroke="none" fill="#0b1a2a">CO<tspan font-size="9" dy="3">3</tspan><tspan font-size="9" dy="-8.5">2</tspan></text>
</g>
<polygon points="94.1,1024.5 117.2,1010.7 118.7,1016.9 135.6,999.3 138.1,1006.1 171.9,980.9 144.9,1021.5 142.4,1014.7 126.4,1036.8 124,1029.1 105.5,1053.7" fill="#FFFF00" stroke="#2F5597" stroke-width="1.8" stroke-linejoin="miter"/>
<polygon points="257,990.1 303.1,1001.5 298.5,1007.6 324.6,1015.3 320,1021.5 347.1,1031.3 322.5,1051.3 303.1,1033.1 309.3,1031.3 286.2,1018.4 292.4,1015.3" fill="#FFFF00" stroke="#2F5597" stroke-width="1.8" stroke-linejoin="miter"/>
</svg>
</body></html>
